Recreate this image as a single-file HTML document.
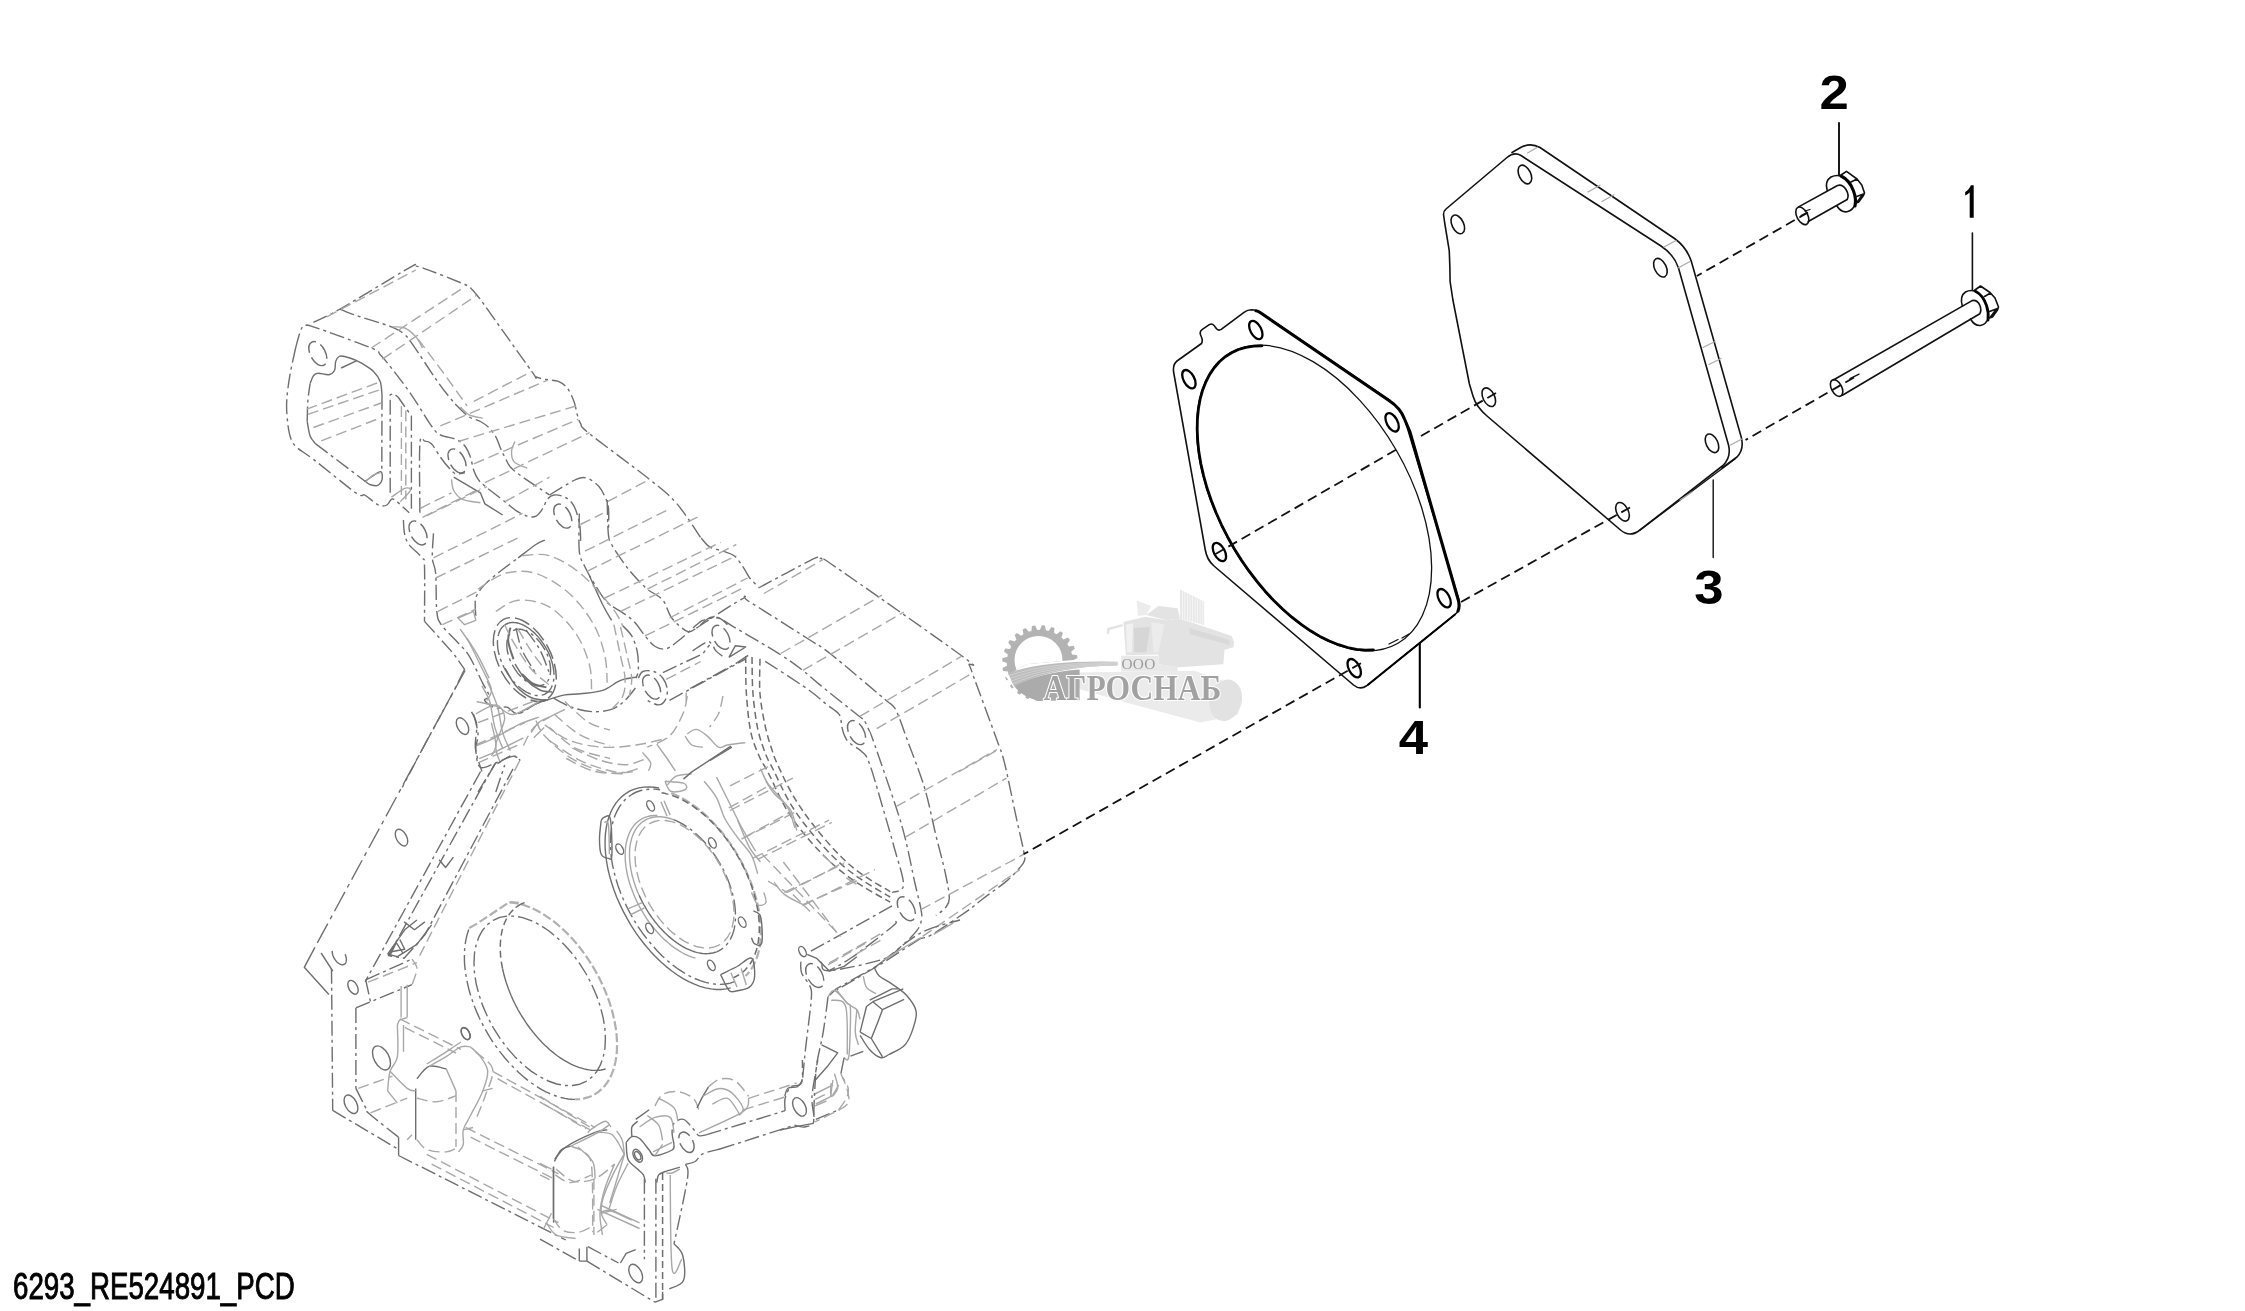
<!DOCTYPE html>
<html><head><meta charset="utf-8"><title>6293_RE524891_PCD</title>
<style>
html,body{margin:0;padding:0;background:#fff;}
body{width:2245px;height:1311px;overflow:hidden;font-family:"Liberation Sans",sans-serif;}
svg{display:block;position:absolute;left:0;top:0;will-change:transform;}
svg *{fill:none;stroke-linecap:round;stroke-linejoin:round;}
.cmb polygon,.cmb ellipse{fill:#e3e3e3;stroke:none}
.k13{stroke:#111;stroke-width:1.3} .k14{stroke:#111;stroke-width:1.4} .k15{stroke:#111;stroke-width:1.6} .k16{stroke:#111;stroke-width:1.6}
.k20{stroke:#000;stroke-width:2.1} .k18{stroke:#000;stroke-width:1.8} .k22{stroke:#000;stroke-width:2.3} .k28{stroke:#000;stroke-width:2.8} .k30{stroke:#000;stroke-width:3.1}
.g12{stroke:#aaa;stroke-width:1.2}
.dk{stroke:#111;stroke-width:1.8;stroke-dasharray:10 5.3;stroke-linecap:butt}
text{font-family:"Liberation Sans",sans-serif;stroke:none;}
.lb{fill:#000;font-weight:bold} .l1{fill:#000} .cap{fill:#000;stroke:#000;stroke-width:0.95px;stroke-linejoin:miter}
.hd{stroke:#6e6e6e;stroke-width:1.4;stroke-dasharray:15 4 3 4;stroke-linecap:butt}
.hs{stroke:#6e6e6e;stroke-width:1.4;stroke-linecap:butt}
.hl{stroke:#a8a8a8;stroke-width:1.4;stroke-dasharray:11 5;stroke-linecap:butt}
.hg{stroke:#a8a8a8;stroke-width:1.4;stroke-linecap:butt}
.hs2{stroke:#6e6e6e;stroke-width:2.0;stroke-linecap:butt}
.hg2{stroke:#b0b0b0;stroke-width:2.2;stroke-dasharray:9 3;stroke-linecap:butt}
.hd2{stroke:#6e6e6e;stroke-width:1.45;stroke-dasharray:16 5;stroke-linecap:butt}
.hd3{stroke:#6e6e6e;stroke-width:1.5;stroke-dasharray:7 4;stroke-linecap:butt}
.hd4{stroke:#6e6e6e;stroke-width:1.35;stroke-dasharray:22 5 4 5;stroke-linecap:butt}
</style></head><body>
<svg width="2245" height="1311" viewBox="0 0 2245 1311">
<g id="watermark">
<g class="cmb">
<polygon points="1123.5,622.1 1145.1,616.7 1166.8,620.3 1180.0,618.5 1231.7,635.9 1234.1,642.5 1233.5,647.3 1224.5,649.8 1223.3,664.2 1178.8,667.2 1158.4,664.2 1158.4,654.6 1125.9,655.2"/>
<polygon points="1146.3,614.9 1158.4,605.9 1177.6,608.3 1180.0,618.5 1166.8,620.3"/>
<polygon points="1180.0,589.6 1204.1,601.6 1204.1,625.1 1180.0,618.5" style="fill:#e8e8e8"/>
<polygon points="1136.7,600.4 1151.2,605.9 1146.3,614.9 1137.9,616.1" style="fill:#ececec"/>
<polygon points="1106.7,633.5 1107.3,628.1 1122.3,623.9 1122.9,626.3 1109.7,629.9 1109.1,634.1"/>
<polygon points="1074.2,672.6 1194.4,670.8 1237.7,685.8 1241.4,700.3 1237.7,714.7 1200.5,722.5 1122.3,701.5 1076.6,688.2" style="fill:#ebebeb"/>
<ellipse cx="1225.7" cy="700.3" rx="16" ry="21" transform="rotate(15 1225.7 700.3)" style="fill:#e2e2e2"/>
<polygon points="1121.1,655.8 1158.4,655.8 1158.4,664.2 1177.6,666.6 1177.6,671.4 1121.1,671.4" style="fill:#e9e9e9"/>
</g>
<polygon points="1133.7,628.1 1150.0,626.9 1146.3,652.2 1134.3,652.2" style="fill:#d6d6d6;stroke:none"/>
<polygon points="1151.2,622.1 1164.4,624.5 1158.4,652.2 1153.6,652.2" style="fill:#ececec;stroke:none"/>
<polygon points="1125.9,624.5 1133.1,623.3 1131.9,652.2 1127.1,652.2" style="fill:#f1f1f1;stroke:none"/>
<polygon points="1189.6,628.1 1229.3,640.1 1229.3,644.9 1189.6,634.1" style="fill:#d9d9d9;stroke:none"/>
<path d="M1182.4,591.4 L1182.4,619.7" style="stroke:#f6f6f6;stroke-width:0.9;fill:none"/>
<path d="M1184.9,592.6 L1184.9,620.3" style="stroke:#f6f6f6;stroke-width:0.9;fill:none"/>
<path d="M1187.5,593.8 L1187.5,620.9" style="stroke:#f6f6f6;stroke-width:0.9;fill:none"/>
<path d="M1190.0,595.0 L1190.0,621.5" style="stroke:#f6f6f6;stroke-width:0.9;fill:none"/>
<path d="M1192.5,596.2 L1192.5,622.1" style="stroke:#f6f6f6;stroke-width:0.9;fill:none"/>
<path d="M1195.1,597.4 L1195.1,622.7" style="stroke:#f6f6f6;stroke-width:0.9;fill:none"/>
<path d="M1197.6,598.6 L1197.6,623.3" style="stroke:#f6f6f6;stroke-width:0.9;fill:none"/>
<path d="M1200.1,599.8 L1200.1,623.9" style="stroke:#f6f6f6;stroke-width:0.9;fill:none"/>
<path d="M1202.6,601.0 L1202.6,624.5" style="stroke:#f6f6f6;stroke-width:0.9;fill:none"/>
<defs><clipPath id="gclip"><polygon points="990.0,604.1 1057.3,604.1 1076.6,647.3 1079.0,659.4 1026.1,664.2 1005.6,676.2 1014.1,688.2 1081.4,671.4 1081.4,712.3 990.0,712.3"/></clipPath></defs>
<g clip-path="url(#gclip)"><path d="M1073.2,663.0 L1077.8,664.8 L1077.5,667.9 L1072.7,668.9 L1072.1,671.6 L1076.0,674.5 L1074.9,677.5 L1070.0,677.1 L1068.8,679.6 L1071.8,683.4 L1070.0,686.0 L1065.4,684.4 L1063.5,686.5 L1065.4,691.0 L1063.0,693.0 L1058.9,690.3 L1056.6,691.8 L1057.3,696.6 L1054.5,697.9 L1051.2,694.2 L1048.6,695.1 L1048.1,699.9 L1044.9,700.5 L1042.8,696.1 L1040.0,696.2 L1038.2,700.8 L1035.1,700.5 L1034.1,695.7 L1031.4,695.1 L1028.5,699.0 L1025.5,697.9 L1025.9,693.0 L1023.4,691.8 L1019.6,694.8 L1017.0,693.0 L1018.6,688.4 L1016.5,686.5 L1012.0,688.4 L1010.0,686.0 L1012.7,681.9 L1011.2,679.6 L1006.4,680.3 L1005.1,677.5 L1008.8,674.2 L1007.9,671.6 L1003.1,671.1 L1002.5,667.9 L1006.9,665.8 L1006.8,663.0 L1002.2,661.2 L1002.5,658.1 L1007.3,657.1 L1007.9,654.4 L1004.0,651.5 L1005.1,648.5 L1010.0,648.9 L1011.2,646.4 L1008.2,642.6 L1010.0,640.0 L1014.6,641.6 L1016.5,639.5 L1014.6,635.0 L1017.0,633.0 L1021.1,635.7 L1023.4,634.2 L1022.7,629.4 L1025.5,628.1 L1028.8,631.8 L1031.4,630.9 L1031.9,626.1 L1035.1,625.5 L1037.2,629.9 L1040.0,629.8 L1041.8,625.2 L1044.9,625.5 L1045.9,630.3 L1048.6,630.9 L1051.5,627.0 L1054.5,628.1 L1054.1,633.0 L1056.6,634.2 L1060.4,631.2 L1063.0,633.0 L1061.4,637.6 L1063.5,639.5 L1068.0,637.6 L1070.0,640.0 L1067.3,644.1 L1068.8,646.4 L1073.6,645.7 L1074.9,648.5 L1071.2,651.8 L1072.1,654.4 L1076.9,654.9 L1077.5,658.1 L1073.1,660.2 Z" style="fill:#b3b3b3;stroke:none"/>
<circle cx="1038.5" cy="660.0" r="24.0" style="fill:#fff;stroke:none"/></g>
<path d="M1014.1,685.8 Q1040.5,672.6 1079.6,669.6 L1079.6,700.3 L1038.1,700.9 Q1020.1,695.5 1014.1,685.8 Z" style="fill:#ababab;stroke:none"/>
<path d="M1008.0,673.2 Q1044.1,660.0 1117.5,661.8 L1117.5,665.6 Q1052.5,666.6 1014.1,686.4 Z" style="fill:#bcbcbc;stroke:none"/>
<path d="M1009.2,675.6 Q1046.5,662.4 1117.5,662.5" style="stroke:#dadada;stroke-width:0.7;fill:none"/>
<path d="M1010.4,678.4 Q1048.0,663.8 1117.5,663.2" style="stroke:#dadada;stroke-width:0.7;fill:none"/>
<path d="M1011.6,681.0 Q1049.4,665.1 1117.5,663.9" style="stroke:#dadada;stroke-width:0.7;fill:none"/>
<path d="M1012.9,683.7 Q1050.9,666.3 1117.5,664.8" style="stroke:#dadada;stroke-width:0.7;fill:none"/>
<text x="1138.5" y="669.2" text-anchor="middle" style="font-family:'Liberation Serif',serif;font-size:15.3px;fill:#9a9a9a;stroke:none;letter-spacing:0.3px">ООО</text>
<text x="1043.5" y="700.2" textLength="178" lengthAdjust="spacingAndGlyphs" style="font-family:'Liberation Serif',serif;font-size:35px;font-weight:bold;fill:#a2a2a2;stroke:#fff;stroke-width:2.2px;paint-order:stroke fill">АГРОСНАБ</text>
</g>
<g id="housing">
<path class="hd" d="M313.4,322.4 C317.9,320.2 324.2,318.1 340.1,309.0 C356.1,299.9 396.9,274.9 409.2,267.8 C421.4,260.8 411.4,266.7 413.6,266.7 C415.9,266.7 414.0,264.8 422.5,267.8 C431.1,270.8 456.7,281.0 464.9,284.5 C473.0,288.0 469.3,286.9 471.5,289.0 C473.8,291.0 476.0,294.0 478.2,296.8 C480.4,299.6 476.0,293.2 484.9,305.7 C493.8,318.1 523.1,359.5 531.7,371.4 C540.2,383.3 533.5,375.6 536.1,376.9 C538.7,378.3 543.5,378.9 547.3,379.6 C551.0,380.4 555.1,380.0 558.4,381.4 C561.7,382.8 564.7,384.7 567.3,388.1 C569.9,391.4 572.3,397.0 574.0,401.4 C575.7,405.9 576.2,411.1 577.3,414.8 C578.4,418.5 578.8,420.7 580.7,423.7 C582.6,426.8 577.4,423.9 588.7,433.1 C600.0,442.2 633.7,466.8 648.4,478.5 C663.0,490.2 667.6,493.3 676.4,503.2 C685.2,513.2 697.0,532.4 701.2,538.2"/>
<path class="hd" d="M295.6,348.0 C296.5,344.8 299.5,332.7 301.2,329.1 C302.8,325.4 303.6,326.5 305.6,326.2 C307.7,325.8 302.5,323.2 313.4,326.8 C324.4,330.5 360.2,343.4 371.3,348.0 C382.4,352.6 376.9,351.3 380.2,354.7 C383.6,358.0 386.2,361.4 391.4,368.0 C396.6,374.7 404.7,385.1 411.4,394.8 C418.1,404.4 426.6,419.3 431.4,425.9 C436.3,432.6 436.3,432.6 440.4,434.9 C444.4,437.1 451.9,437.5 455.9,439.3 C460.0,441.2 462.4,443.0 464.9,446.0 C467.3,449.0 468.9,453.0 470.4,457.1 C471.9,461.2 472.5,466.8 473.8,470.5 C475.1,474.2 476.4,476.8 478.2,479.4 C480.1,482.0 480.4,482.4 484.9,486.1 C489.4,489.8 499.7,497.6 504.9,501.7 C510.1,505.8 512.4,508.2 516.1,510.6 C519.8,513.0 523.9,515.2 527.2,516.1 C530.6,517.1 533.5,517.4 536.1,516.1 C538.7,514.8 541.0,511.1 542.8,508.4 C544.7,505.6 545.4,501.7 547.3,499.4 C549.1,497.2 551.0,495.4 553.9,495.0 C556.9,494.6 561.7,495.4 565.1,497.2 C568.4,499.1 571.6,501.7 574.0,506.1 C576.4,510.6 578.4,518.0 579.6,523.9 C580.7,529.9 580.5,539.0 580.7,542.0"/>
<path class="hd" d="M295.6,348.0 C294.7,352.4 291.5,365.8 290.0,374.7 C288.5,383.6 287.1,393.3 286.7,401.4 C286.3,409.6 287.1,417.4 287.8,423.7 C288.5,430.0 289.5,435.2 291.1,439.3 C292.8,443.4 294.1,444.9 297.8,448.2 C301.5,451.6 303.8,451.9 313.4,459.4 C323.1,466.8 347.2,486.8 355.7,492.8 C364.3,498.7 361.7,493.5 364.6,495.0 C367.6,496.5 370.9,499.9 373.5,501.7 C376.1,503.5 378.0,505.1 380.2,505.7 C382.4,506.2 385.0,506.1 386.9,505.0 C388.8,504.0 389.9,500.2 391.4,499.4 C392.8,498.7 392.8,498.3 395.8,500.6 C398.8,502.8 406.9,510.8 409.2,512.8"/>
<path class="hd" d="M340.1,309.0 C342.4,309.9 345.0,311.6 353.5,314.6 C362.0,317.6 382.8,323.5 391.4,326.8 C399.9,330.2 401.0,331.5 404.7,334.6 C408.4,337.8 408.4,338.3 413.6,345.8 C418.8,353.2 430.0,370.6 435.9,379.2 C441.8,387.7 445.6,392.4 449.3,397.0 C453.0,401.6 454.8,403.7 458.2,407.0 C461.5,410.4 465.6,414.6 469.3,417.0 C473.0,419.5 477.1,419.6 480.4,421.5 C483.8,423.3 486.8,425.6 489.4,428.2 C492.0,430.8 494.2,433.7 496.0,437.1 C497.9,440.4 499.0,444.9 500.5,448.2 C502.0,451.6 502.7,453.4 504.9,457.1 C507.2,460.8 506.4,464.2 513.9,470.5 C521.3,476.8 543.5,490.9 549.5,495.0"/>
<path class="hd" d="M549.5,495.0 C553.9,492.4 569.9,482.2 576.2,479.4 C582.5,476.6 583.6,477.2 587.3,478.3 C591.1,479.4 595.5,482.9 598.5,486.1 C601.5,489.2 603.5,493.5 605.2,497.2 C606.8,500.9 608.0,503.2 608.5,508.4 C609.1,513.5 608.5,525.1 608.5,528.4"/>
<path class="hd" d="M390.2,492.8 L390.2,394.8 L393.6,393.7 L398.0,397.0 L411.4,415.9 L411.4,512.8"/>
<path class="hd" d="M419.9,512.8 C419.9,501.3 419.0,455.7 419.9,443.8 C420.7,431.8 422.8,441.1 424.8,441.1 C426.7,441.1 428.8,441.1 431.4,443.8 C434.0,446.4 437.4,453.0 440.4,457.1 C443.3,461.2 446.7,465.5 449.3,468.3 C451.9,471.0 453.3,473.1 455.9,473.8 C458.5,474.6 463.4,472.9 464.9,472.7"/>
<path class="hs" d="M453.7,477.2 L480.4,492.8 L484.9,503.9 L502.7,515.0"/>
<path class="hs" d="M310.1,383.6 C310.6,382.3 312.1,377.6 313.4,375.8 C314.7,374.1 315.3,373.3 317.9,373.2 C320.5,373.0 326.2,375.2 329.0,374.7 C331.8,374.2 333.5,372.5 334.6,370.3 C335.7,368.0 334.9,363.7 335.7,361.4 C336.4,359.1 337.5,357.3 339.0,356.5 C340.5,355.6 341.6,355.8 344.6,356.5 C347.6,357.2 353.9,359.5 356.8,360.7 C359.8,361.9 359.6,361.8 362.4,363.6 C365.2,365.4 370.6,368.4 373.5,371.4 C376.5,374.4 378.8,377.5 380.2,381.4 C381.6,385.3 381.7,392.5 382.0,394.8"/>
<path class="hd" d="M382.0,394.8 L381.8,472.7"/>
<path class="hs" d="M364.6,481.6 C366.9,480.1 375.1,474.2 378.0,472.7 C380.9,471.2 381.2,471.4 381.8,472.7 C382.4,474.0 382.6,478.4 381.8,480.5 C381.0,482.7 379.0,485.0 376.9,485.6 C374.8,486.3 370.4,484.5 369.1,484.3"/>
<path class="hd" d="M369.1,484.3 L315.6,443.8"/>
<path class="hs" d="M315.6,443.8 C314.7,442.5 311.5,439.7 310.1,436.0 C308.7,432.3 307.7,423.9 307.2,421.5"/>
<path class="hd" d="M307.2,421.5 C307.3,418.2 307.4,407.8 307.8,401.4 C308.3,395.1 309.7,386.6 310.1,383.6"/>
<path class="hs" d="M356.8,360.7 L341.2,368.0"/>
<ellipse class="hd2" cx="317.9" cy="353.6" rx="13" ry="7.50" transform="rotate(62 317.9 353.6)"/>
<ellipse class="hd2" cx="457.1" cy="460.9" rx="13" ry="7.50" transform="rotate(62 457.1 460.9)"/>
<ellipse class="hd2" cx="562.9" cy="516.1" rx="13" ry="7.50" transform="rotate(62 562.9 516.1)"/>
<ellipse class="hd2" cx="418.1" cy="532.9" rx="13" ry="7.50" transform="rotate(62 418.1 532.9)"/>
<path class="hl" d="M326.8,316.8 L415.9,270.0"/>
<path class="hl" d="M371.3,348.0 L464.9,286.7"/>
<path class="hl" d="M382.4,359.1 L476.0,295.7"/>
<path class="hl" d="M306.7,409.2 L381.3,381.4"/>
<path class="hl" d="M307.8,414.4 L381.3,389.2"/>
<path class="hl" d="M313.4,427.5 L381.3,403.0"/>
<path class="hl" d="M321.2,440.9 L381.3,417.5"/>
<path class="hl" d="M473.8,401.4 L531.7,371.4"/>
<path class="hl" d="M440.4,425.9 L547.3,380.3"/>
<path class="hl" d="M458.2,441.5 L576.2,405.9"/>
<path class="hl" d="M473.8,463.8 L578.4,419.3"/>
<path class="hl" d="M484.9,482.7 L589.6,432.6"/>
<path class="hl" d="M420.3,508.4 L451.5,492.8"/>
<path class="hl" d="M607.4,501.7 L647.5,480.5"/>
<path class="hl" d="M418.1,339.1 L444.8,374.7 L467.1,405.9"/>
<path class="hl" d="M422.5,517.3 L480.4,488.3"/>
<path class="hl" d="M504.9,501.7 L549.5,477.2"/>
<path class="hl" d="M401.4,405.9 L401.4,495.0"/>
<path class="hl" d="M405.8,410.4 L405.8,499.4"/>
<path class="hg" d="M392.5,326.8 C394.5,327.0 400.8,326.3 404.7,328.0 C408.6,329.6 412.9,333.5 415.9,336.9 C418.8,340.2 421.4,346.1 422.5,348.0"/>
<path class="hg" d="M460.4,407.0 C461.9,408.3 465.6,413.0 469.3,414.8 C473.0,416.7 480.4,417.6 482.7,418.2"/>
<path class="hg" d="M515.0,441.5 C514.4,443.0 511.8,447.1 511.6,450.4 C511.4,453.8 511.3,458.6 513.9,461.6 C516.5,464.6 525.0,467.1 527.2,468.3"/>
<path class="hg" d="M451.5,479.4 C451.9,481.3 451.9,487.2 453.7,490.5 C455.6,493.9 458.2,497.4 462.6,499.4 C467.1,501.5 477.5,502.2 480.4,502.8"/>
<path class="hg" d="M365.7,481.6 C367.0,480.5 371.1,476.4 373.5,474.9 C376.0,473.5 379.1,473.1 380.2,472.7"/>
<path class="hg" d="M391.4,497.2 C393.6,495.7 401.6,489.4 404.7,488.3 C407.9,487.2 411.0,488.3 410.3,490.5 C409.5,492.8 401.9,499.8 400.3,501.7"/>
<path class="hd" d="M403.4,520.0 C403.6,522.3 403.6,529.3 404.5,533.4 C405.4,537.5 406.0,540.5 409.0,544.5 C411.9,548.6 419.7,554.2 422.3,557.9 C424.9,561.6 424.2,556.2 424.5,566.8 C424.9,577.4 424.5,612.3 424.5,621.4"/>
<path class="hd" d="M424.5,621.4 L435.7,633.6 L453.5,653.7 L464.6,669.3"/>
<path class="hd" d="M464.6,669.3 L453.5,691.5 L424.5,745.0 L402.3,787.3"/>
<path class="hd" d="M433.5,533.4 C433.3,537.5 432.0,551.2 432.3,557.9 C432.7,564.6 434.9,564.6 435.7,573.5 C436.4,582.4 435.9,602.8 436.8,611.4 C437.7,619.9 438.1,619.9 441.2,624.7 C444.4,629.5 451.1,635.1 455.7,640.3 C460.4,645.5 464.6,648.8 469.1,655.9 C473.5,663.0 479.1,675.9 482.4,682.6 C485.8,689.3 488.8,693.0 489.1,696.0 C489.5,699.0 483.6,698.4 484.7,700.4 C485.8,702.5 492.1,707.1 495.8,708.2 C499.5,709.4 503.2,706.2 506.9,707.1 C510.7,708.1 513.3,714.4 518.1,713.8 C522.9,713.3 530.7,706.2 535.9,703.8 C541.1,701.4 547.0,700.1 549.3,699.3"/>
<path class="hs" d="M518.1,713.8 C521.1,712.1 530.7,706.2 535.9,703.8 C541.1,701.4 544.4,700.8 549.3,699.3 C554.1,697.8 559.7,695.8 564.9,694.9 C570.1,693.9 574.1,694.5 580.4,693.8 C586.8,693.0 596.0,692.7 602.7,690.4 C609.4,688.2 615.0,682.6 620.5,680.4 C626.1,678.2 633.5,677.6 636.1,677.1"/>
<ellipse class="hd2" cx="524.8" cy="659.5" rx="45.4" ry="26.20" transform="rotate(62 524.8 659.5)"/>
<path class="hd" d="M475.8,615.8 C475.8,612.8 474.3,603.2 475.8,598.0 C477.3,592.8 480.6,589.1 484.7,584.6 C488.8,580.2 494.7,575.7 500.3,571.3 C505.8,566.8 515.1,560.1 518.1,557.9"/>
<path class="hs" d="M518.1,557.9 C521.1,555.7 531.4,547.5 535.9,544.5 C540.4,541.6 543.3,540.8 544.8,540.1"/>
<path class="hd" d="M622.8,625.8 C624.2,627.5 629.3,631.6 631.7,635.9 C634.1,640.1 636.1,645.9 637.2,651.4 C638.4,657.0 638.5,664.8 638.4,669.3 C638.2,673.7 636.5,676.7 636.1,678.2"/>
<path class="hd" d="M553.7,698.2 C556.7,699.7 565.2,704.9 571.5,707.1 C577.8,709.4 584.9,711.2 591.6,711.6 C598.3,712.0 606.1,711.2 611.6,709.4 C617.2,707.5 620.9,704.2 625.0,700.4 C629.1,696.7 634.3,689.3 636.1,687.1"/>
<path class="hd" d="M579.3,513.4 C579.3,519.7 578.4,542.3 579.3,551.2 C580.3,560.1 582.3,561.2 584.9,566.8 C587.5,572.4 591.2,578.7 594.9,584.6 C598.6,590.6 602.9,598.0 607.2,602.4 C611.4,606.9 616.1,608.2 620.5,611.4 C625.0,614.5 629.8,617.3 633.9,621.4 C638.0,625.5 641.5,631.7 645.0,635.9 C648.6,640.1 651.5,644.4 655.1,646.5 C658.6,648.7 662.3,649.7 666.2,648.8 C670.1,647.8 674.2,644.0 678.4,640.8 C682.7,637.5 687.7,632.6 691.8,629.2 C695.9,625.8 698.5,622.1 702.9,620.3 C707.4,618.4 714.4,617.3 718.5,618.0 C722.6,618.8 726.0,623.6 727.4,624.7"/>
<path class="hs" d="M589.4,575.7 C591.6,580.5 599.0,597.3 602.7,604.7 C606.4,612.1 610.1,617.7 611.6,620.3"/>
<path class="hd" d="M701.2,538.1 C702.6,539.5 706.0,544.6 709.6,546.8 C713.3,549.0 718.9,549.7 723.0,551.2 C727.1,552.7 730.8,553.1 734.1,555.7 C737.5,558.3 740.4,563.1 743.0,566.8 C745.6,570.5 747.1,574.6 749.7,578.0 C752.3,581.3 757.1,585.4 758.6,586.9"/>
<path class="hd" d="M607.2,500.0 C607.4,505.6 607.5,526.0 608.3,533.4 C609.0,540.8 608.8,539.3 611.6,544.5 C614.4,549.7 620.9,559.0 625.0,564.6 C629.1,570.2 632.4,573.9 636.1,578.0 C639.8,582.0 642.8,585.4 647.3,589.1 C651.7,592.8 658.8,595.4 662.9,600.2 C666.9,605.0 667.7,612.8 671.8,618.0 C675.8,623.2 683.3,629.7 687.3,631.4 C691.4,633.1 694.8,628.6 696.3,628.1"/>
<ellipse class="hd2" cx="651.7" cy="687.1" rx="13" ry="7.50" transform="rotate(62 651.7 687.1)"/>
<path class="hd" d="M638.4,678.2 C639.1,677.1 640.2,672.6 642.8,671.5 C645.4,670.4 650.6,670.4 653.9,671.5 C657.3,672.6 660.6,675.2 662.9,678.2 C665.1,681.1 666.9,685.6 667.3,689.3 C667.7,693.0 666.6,697.8 665.1,700.4 C663.6,703.0 661.4,704.9 658.4,704.9 C655.4,704.9 649.1,701.2 647.3,700.4"/>
<path class="hd" d="M662.9,672.6 L702.9,653.7 L709.6,644.8"/>
<path class="hd" d="M669.5,700.4 L745.3,659.2"/>
<path class="hl" d="M666.2,679.3 L700.7,661.5"/>
<path class="hg" d="M686.2,692.4 L686.2,701.6"/>
<path class="hl" d="M478.0,589.1 C482.4,586.5 495.1,576.1 504.7,573.5 C514.4,570.9 525.1,570.2 535.9,573.5 C546.7,576.8 559.7,585.0 569.3,593.5 C579.0,602.1 587.9,614.3 593.8,624.7 C599.7,635.1 602.7,646.3 604.9,655.9 C607.2,665.6 606.8,678.2 607.2,682.6"/>
<path class="hl" d="M495.8,611.4 C499.5,609.5 509.2,601.0 518.1,600.2 C527.0,599.5 539.6,601.3 549.3,606.9 C558.9,612.5 569.3,624.0 576.0,633.6 C582.7,643.3 586.8,655.5 589.4,664.8 C592.0,674.1 591.2,685.2 591.6,689.3"/>
<path class="hl" d="M522.5,555.7 C527.0,555.7 539.6,552.7 549.3,555.7 C558.9,558.6 570.1,565.0 580.4,573.5 C590.8,582.0 604.6,598.2 611.6,606.9 C618.7,615.6 620.9,622.7 622.8,625.8"/>
<path class="hl" d="M613.9,624.7 C615.0,629.9 618.7,647.0 620.5,655.9 C622.4,664.8 624.6,671.5 625.0,678.2 C625.4,684.9 625.0,690.8 622.8,696.0 C620.5,701.2 613.5,707.1 611.6,709.4"/>
<path class="hl" d="M620.5,626.9 C621.6,631.8 625.4,647.4 627.2,655.9 C629.1,664.4 631.3,671.5 631.7,678.2 C632.0,684.9 629.8,693.0 629.4,696.0"/>
<path class="hl" d="M433.5,557.9 L522.5,513.4"/>
<path class="hl" d="M435.7,578.0 L518.1,537.9"/>
<path class="hl" d="M437.9,611.4 L478.0,591.3"/>
<path class="hl" d="M442.4,624.7 L475.8,609.1"/>
<path class="hl" d="M426.8,515.6 L486.9,486.6"/>
<path class="hl" d="M580.4,524.5 L602.7,513.4"/>
<path class="hl" d="M584.9,551.2 L669.5,508.9"/>
<path class="hl" d="M587.1,571.3 L700.7,515.6"/>
<path class="hl" d="M604.9,598.0 L720.8,542.3"/>
<path class="hl" d="M620.5,611.4 L736.3,555.7"/>
<path class="hl" d="M645.0,635.9 L745.3,586.9"/>
<path class="hl" d="M647.3,589.1 L736.3,544.5"/>
<path class="hl" d="M669.5,618.0 L747.5,578.0"/>
<path class="hs" d="M498.4,634.8 L498.8,633.4 L499.3,632.1 L499.8,630.9 L500.4,629.7 L501.1,628.7 L501.8,627.7 L502.7,626.8 L503.5,625.9 L504.4,625.2 L505.4,624.5 L506.4,624.0 L507.5,623.5 L508.6,623.1 L509.8,622.8 L511.0,622.6 L512.3,622.5 L513.6,622.5 L514.9,622.6 L516.2,622.8 L517.6,623.0 L519.0,623.4 L520.4,623.9 L521.8,624.4 L523.2,625.0 L524.7,625.8 L526.1,626.6 L527.5,627.5 L529.0,628.5 L530.4,629.5 L531.8,630.7 L533.2,631.9 L534.6,633.1 L535.9,634.5 L537.3,635.9 L538.6,637.4 L539.8,638.9 L541.1,640.5 L542.2,642.1 L543.4,643.8 L544.5,645.5 L545.5,647.2 L546.5,649.0 L547.5,650.8 L548.4,652.6 L549.2,654.4 L550.0,656.3 L550.7,658.1 L551.3,660.0"/>
<path class="hd" d="M551.3,660.0 L552.2,662.9 L552.9,665.8 L553.4,668.7 L553.8,671.4 L554.0,674.1 L553.9,676.7 L553.8,679.2 L553.4,681.6 L552.8,683.8 L552.1,685.9 L551.2,687.8 L550.2,689.5 L549.0,691.0 L547.6,692.3 L546.1,693.4 L544.5,694.3 L542.8,694.9 L540.9,695.3 L538.9,695.5 L536.9,695.5 L534.8,695.2 L532.6,694.7 L530.4,693.9 L528.2,693.0 L525.9,691.8 L523.7,690.4 L521.4,688.8 L519.2,687.0 L517.0,685.0 L514.9,682.9 L512.8,680.6 L510.9,678.2 L509.0,675.7 L507.2,673.0 L505.6,670.3 L504.0,667.5 L502.7,664.6 L501.4,661.7 L500.3,658.8 L499.4,655.9 L498.7,653.0 L498.1,650.1 L497.7,647.3 L497.5,644.6 L497.4,642.0 L497.6,639.4 L497.9,637.0 L498.4,634.8"/>
<path class="hd" d="M544.2,684.3 L542.0,685.3 L539.7,685.7 L537.1,685.7 L534.4,685.2 L531.6,684.2 L528.7,682.8 L525.8,680.9 L523.0,678.7 L520.3,676.0 L517.7,673.1 L515.4,669.9 L513.2,666.4 L511.3,662.9 L509.7,659.2 L508.5,655.5 L507.5,651.8 L507.0,648.3 L506.8,644.8 L507.0,641.6 L507.5,638.7 L508.5,636.1 L509.7,633.9 L511.3,632.1 L513.2,630.7 L515.4,629.7 L517.7,629.3 L520.3,629.3 L523.0,629.8 L525.8,630.8 L528.7,632.2 L531.6,634.1 L534.4,636.3 L537.1,639.0 L539.7,641.9 L542.0,645.1 L544.2,648.6 L546.1,652.1 L547.7,655.8 L548.9,659.5 L549.9,663.2 L550.4,666.7 L550.6,670.2 L550.4,673.4 L549.9,676.3 L548.9,678.9 L547.7,681.1 L546.1,682.9 L544.2,684.3"/>
<path class="hs2" d="M510.4,627.6 C510.0,629.8 507.7,635.7 508.2,641.0 C508.7,646.3 512.6,656.2 513.5,659.3"/>
<path class="hs2" d="M522.0,674.0 C523.8,675.6 528.9,681.5 533.0,683.7 C537.1,685.9 544.2,686.8 546.4,687.4"/>
<path class="hs" d="M515.0,664.0 C516.8,666.7 521.8,675.7 526.0,680.0 C530.2,684.3 535.7,688.0 540.0,690.0 C544.3,692.0 550.0,691.7 552.0,692.0"/>
<path class="hs" d="M505.0,668.0 C506.8,671.0 511.5,681.0 516.0,686.0 C520.5,691.0 526.7,695.7 532.0,698.0 C537.3,700.3 545.3,699.7 548.0,700.0"/>
<path class="hd" d="M516.0,628.0 C517.0,631.7 518.8,642.7 522.0,650.0 C525.2,657.3 532.8,668.3 535.0,672.0"/>
<path class="hd" d="M526.0,630.0 C528.3,633.3 536.2,643.0 540.0,650.0 C543.8,657.0 547.5,668.3 549.0,672.0"/>
<path class="hl" d="M504.7,624.7 C506.2,627.7 509.2,635.1 513.6,642.5 C518.1,650.0 525.5,662.2 531.4,669.3 C537.4,676.3 546.3,682.3 549.3,684.9"/>
<path class="hl" d="M518.1,629.2 C520.3,632.9 527.0,644.8 531.4,651.4 C535.9,658.1 542.6,666.3 544.8,669.3"/>
<path class="hg" d="M458.0,618.0 L473.5,611.4 L475.8,620.3 L464.6,624.7 L458.0,618.0"/>
<path class="hg" d="M460.2,629.2 C461.7,631.4 465.4,635.9 469.1,642.5 C472.8,649.2 478.7,661.5 482.4,669.3 C486.2,677.1 490.6,684.1 491.4,689.3 C492.1,694.5 487.6,698.6 486.9,700.4"/>
<path class="hg" d="M466.9,638.1 C468.7,641.1 474.3,649.2 478.0,655.9 C481.7,662.6 487.3,674.5 489.1,678.2"/>
<path class="hg" d="M475.8,713.8 C479.1,712.3 491.0,704.2 495.8,704.9 C500.6,705.6 504.7,711.6 504.7,718.3 C504.7,724.9 496.6,737.6 495.8,745.0 C495.1,752.4 499.5,759.8 500.3,762.8"/>
<path class="hg" d="M491.4,722.7 C492.1,726.4 495.8,739.4 495.8,745.0 C495.8,750.6 492.1,754.3 491.4,756.1"/>
<path class="hl" d="M478.0,722.7 L535.9,700.4"/>
<path class="hl" d="M475.8,745.0 L524.8,722.7"/>
<path class="hl" d="M478.0,762.8 L518.1,745.0"/>
<path class="hd" d="M473.5,713.8 C474.3,717.1 477.6,727.9 478.0,733.9 C478.4,739.8 475.4,743.9 475.8,749.4 C476.1,755.0 476.9,765.0 480.2,767.3 C483.6,769.5 490.2,764.7 495.8,762.8 C501.4,761.0 509.5,756.5 513.6,756.1 C517.7,755.8 519.2,759.8 520.3,760.6"/>
<path class="hd" d="M495.8,792.0 L504.7,765.0"/>
<path class="hd" d="M478.0,792.0 L495.8,762.8"/>
<path class="hl" d="M544.8,724.9 C548.9,727.5 559.7,736.8 569.3,740.5 C579.0,744.2 591.6,746.5 602.7,747.2 C613.9,748.0 625.4,746.5 636.1,745.0 C646.9,743.5 662.1,739.4 667.3,738.3"/>
<path class="hl" d="M549.3,740.5 C554.5,743.9 569.7,755.4 580.4,760.6 C591.2,765.8 604.9,769.9 613.9,771.7 C622.8,773.6 630.6,771.7 633.9,771.7"/>
<path class="hl" d="M535.9,720.5 C537.4,723.1 538.9,729.8 544.8,736.1 C550.7,742.4 561.9,752.4 571.5,758.4 C581.2,764.3 593.8,769.1 602.7,771.7 C611.6,774.3 621.3,773.6 625.0,773.9"/>
<path class="hl" d="M687.3,696.0 C686.6,699.0 685.9,707.1 682.9,713.8 C679.9,720.5 675.5,730.5 669.5,736.1 C663.6,741.6 651.0,745.4 647.3,747.2"/>
<path class="hl" d="M723.0,696.0 C722.2,699.0 720.8,708.6 718.5,713.8 C716.3,719.0 711.1,724.9 709.6,727.2"/>
<path class="hg" d="M687.3,733.9 C688.8,733.1 692.9,729.0 696.3,729.4 C699.6,729.8 703.7,733.1 707.4,736.1 C711.1,739.0 715.2,745.7 718.5,747.2 C721.9,748.7 723.0,745.7 727.4,745.0 C731.9,744.2 742.3,743.1 745.3,742.8"/>
<path class="hg" d="M685.1,736.1 C686.2,737.6 688.8,743.1 691.8,745.0 C694.8,746.8 701.1,746.8 702.9,747.2"/>
<path class="hs" d="M709.6,760.6 L731.9,747.2"/>
<path class="hg" d="M667.3,785.1 C668.8,783.6 672.1,778.0 676.2,776.2 C680.3,774.3 689.2,774.3 691.8,773.9"/>
<path class="hd3" d="M745.7,656.0 C745.8,662.3 745.5,680.9 746.4,693.7 C747.3,706.5 748.6,721.9 750.9,732.6 C753.2,743.3 757.1,751.4 760.0,758.0 C762.9,764.6 763.6,763.6 768.1,772.4 C772.6,781.1 780.2,799.1 787.2,810.5 C794.2,821.9 801.8,831.5 810.1,841.0 C818.4,850.5 827.9,860.1 836.8,867.7 C845.7,875.3 854.6,881.1 863.5,886.8 C872.4,892.5 885.8,899.5 890.2,902.0"/>
<path class="hd3" d="M760.0,658.7 C760.0,664.5 759.1,682.5 760.0,693.7 C760.9,704.9 763.2,716.7 765.2,726.1 C767.2,735.5 769.9,743.5 772.0,750.0 C774.1,756.5 774.2,757.2 777.7,764.8 C781.2,772.3 786.9,785.1 792.9,795.3 C798.9,805.5 805.9,815.6 813.9,825.8 C821.9,836.0 832.3,848.0 840.6,856.3 C848.9,864.6 855.2,869.5 863.5,875.4 C871.8,881.3 885.8,888.9 890.2,891.6"/>
<path class="hd3" d="M752.0,657.0 C752.2,663.1 752.0,681.5 753.0,693.7 C754.0,705.9 755.8,719.8 758.0,730.0 C760.2,740.2 763.5,748.5 766.0,755.0 C768.5,761.5 769.0,761.0 773.0,769.0 C777.0,777.0 783.5,792.2 790.0,803.0 C796.5,813.8 803.9,823.7 812.0,833.5 C820.1,843.3 830.1,854.1 838.7,862.0 C847.3,869.9 854.9,875.2 863.5,881.0 C872.1,886.8 885.8,894.3 890.2,897.0"/>
<path class="hd" d="M758.5,588.0 C767.7,583.1 803.5,563.6 813.9,558.7 C824.3,553.8 817.4,557.4 821.0,558.7 C824.6,560.1 811.8,550.6 835.3,566.8 C858.8,583.0 939.7,639.6 962.0,656.0 C984.3,672.4 967.1,661.1 969.2,665.0 C971.3,668.9 969.9,666.7 974.5,679.2 C979.1,691.7 991.9,726.0 996.9,740.0 C1001.9,754.0 1001.3,750.2 1004.5,762.9 C1007.7,775.6 1012.8,801.7 1016.0,816.3 C1019.2,830.9 1022.2,843.3 1023.6,850.6 C1025.0,857.9 1025.2,857.2 1024.6,860.1 C1024.0,863.0 1022.8,864.2 1019.8,867.7 C1016.8,871.2 1012.5,876.0 1006.5,881.1 C1000.5,886.2 990.3,893.1 983.6,898.2 C976.9,903.3 975.0,905.6 966.4,911.6 C957.8,917.6 939.7,930.0 932.1,934.5 C924.5,939.0 922.6,937.7 920.7,938.3"/>
<path class="hd" d="M696.3,628.1 C703.9,623.3 733.1,603.5 741.9,599.1 C750.7,594.7 738.2,595.0 749.0,601.5 C759.8,608.0 793.2,629.3 806.7,638.0 C820.2,646.7 817.0,643.4 830.0,653.5 C843.0,663.6 874.1,690.3 884.4,698.9 C894.7,707.5 889.8,702.6 892.0,705.0 C894.2,707.4 894.9,707.4 897.4,713.2 C899.9,719.0 902.8,727.6 907.3,740.0 C911.8,752.4 919.7,771.8 924.5,787.7 C929.3,803.6 932.4,821.0 935.9,835.3 C939.4,849.6 943.2,863.0 945.4,873.5 C947.6,884.0 949.3,892.5 949.3,898.2 C949.3,903.9 947.6,904.9 945.4,907.8 C943.2,910.7 937.5,914.1 935.9,915.4"/>
<path class="hd" d="M700.4,625.0 C701.9,623.8 706.4,619.1 709.4,617.9 C712.4,616.7 714.6,616.5 718.5,617.9 C722.4,619.3 722.4,620.1 732.8,626.3 C743.2,632.4 769.0,647.4 780.7,654.8 C792.4,662.1 796.3,665.4 802.8,670.4 C809.3,675.4 810.3,677.0 819.6,684.6 C828.9,692.2 851.1,709.9 858.5,715.7 C865.9,721.5 862.0,717.2 863.7,719.6 C865.4,722.0 867.4,726.6 868.9,730.0 C870.4,733.4 868.5,727.2 873.0,740.0 C877.5,752.8 890.5,790.2 895.9,806.7 C901.3,823.2 902.2,826.4 905.4,839.1 C908.6,851.8 912.3,871.5 914.9,883.0 C917.5,894.5 919.6,901.8 920.7,907.8 C921.8,913.8 922.2,915.4 921.6,919.2 C921.0,923.0 920.1,926.2 916.8,930.7 C913.5,935.2 907.3,941.1 901.6,945.9 C895.9,950.7 894.6,955.2 882.5,959.3 C870.4,963.4 839.3,970.1 829.1,970.7 C818.9,971.3 823.4,965.0 821.5,963.1 C819.6,961.2 818.3,959.9 817.7,959.3"/>
<path class="hd" d="M765.2,661.3 C772.1,665.8 796.6,681.4 806.7,688.5 C816.9,695.6 820.7,699.8 826.1,704.1 C831.5,708.4 836.5,710.7 839.1,714.4 C841.7,718.1 840.8,722.6 841.7,726.1 C842.6,729.6 843.0,732.4 844.3,735.2 C845.6,738.0 846.5,740.3 849.4,743.0 C852.3,745.7 858.3,748.1 861.6,751.4 C864.9,754.7 865.7,753.7 869.2,762.9 C872.7,772.1 878.4,792.7 882.5,806.7 C886.6,820.7 890.5,833.8 894.0,846.8 C897.5,859.8 903.8,877.3 903.5,884.9 C903.2,892.5 894.0,891.2 892.1,892.5"/>
<ellipse class="hd2" cx="721.1" cy="637.3" rx="13" ry="7.50" transform="rotate(62 721.1 637.3)"/>
<ellipse class="hd2" cx="856.6" cy="732.6" rx="13" ry="7.50" transform="rotate(62 856.6 732.6)"/>
<ellipse class="hd2" cx="906.4" cy="908.7" rx="13" ry="7.50" transform="rotate(62 906.4 908.7)"/>
<ellipse class="hd2" cx="814.8" cy="975.5" rx="13" ry="7.50" transform="rotate(62 814.8 975.5)"/>
<ellipse class="hs" cx="802.5" cy="951.6" rx="5.5" ry="3.17" transform="rotate(62 802.5 951.6)"/>
<path class="hd" d="M892.1,905.9 L844.4,932.6 L810.1,951.6"/>
<path class="hd" d="M895.9,921.1 C895.2,922.1 899.4,920.8 892.1,926.8 C884.8,932.9 862.5,950.0 852.0,957.3 C841.5,964.7 833.0,968.5 829.1,970.7"/>
<path class="hd" d="M920.7,938.3 L882.5,963.1 L836.8,990.0"/>
<path class="hl" d="M895.9,806.7 L996.9,749.5"/>
<path class="hl" d="M905.4,837.2 L1006.5,778.1"/>
<path class="hl" d="M920.7,909.7 L1023.6,854.4"/>
<path class="hl" d="M922.6,936.4 L1019.8,869.6"/>
<path class="hl" d="M829.1,963.1 L882.5,932.6"/>
<path class="hl" d="M780.7,653.5 L881.9,595.2"/>
<path class="hl" d="M802.8,670.4 L903.9,612.0"/>
<path class="hl" d="M859.8,716.4 L962.0,656.0"/>
<path class="hl" d="M876.7,728.7 L972.6,673.0"/>
<path class="hs" d="M728.9,657.4 L735.4,645.7 L745.7,647.0 L728.9,657.4"/>
<path class="hd" d="M692.6,650.9 C695.0,649.4 703.6,642.9 706.9,641.9 C710.1,640.8 710.5,642.9 712.0,644.4 C713.6,646.0 714.2,649.0 715.9,650.9 C717.7,652.9 721.3,655.2 722.4,656.1"/>
<path class="hd" d="M690.0,688.5 L735.4,663.9 L750.9,653.5"/>
<path class="hl" d="M763.9,593.5 L822.8,559.6"/>
<path class="hl" d="M958.4,772.0 L999.5,748.8"/>
<path class="hl" d="M730.0,785.8 L768.1,766.7"/>
<path class="hl" d="M730.0,810.5 L792.9,778.1"/>
<path class="hl" d="M741.4,839.1 L794.8,812.4"/>
<path class="hl" d="M752.9,858.2 L829.1,820.1"/>
<path class="hl" d="M787.2,892.5 L844.4,862.0"/>
<path class="hl" d="M802.4,905.9 L874.9,869.6"/>
<path class="hl" d="M768.1,881.1 L787.2,892.5"/>
<path class="hl" d="M792.9,894.4 L810.1,911.6"/>
<path class="hl" d="M783.4,862.0 L836.8,932.6"/>
<path class="hl" d="M762.4,854.4 L840.6,936.4"/>
<path class="hg" d="M760.5,768.6 C761.8,771.1 763.7,777.5 768.1,783.9 C772.6,790.2 782.7,799.4 787.2,806.7 C791.6,814.0 793.6,824.2 794.8,827.7"/>
<path class="hg" d="M737.6,820.1 C739.5,824.5 745.3,839.8 749.1,846.8 C752.9,853.8 758.6,859.5 760.5,862.0"/>
<path class="hs" d="M730.7,987.9 L726.1,988.9 L721.2,989.5 L716.1,989.5 L710.9,988.9 L705.5,987.9 L700.0,986.3 L694.4,984.2 L688.8,981.6 L683.1,978.6 L677.4,975.0 L671.8,971.0 L666.2,966.6 L660.7,961.7 L655.3,956.5 L650.1,950.9 L645.1,945.0 L640.2,938.8 L635.6,932.3 L631.2,925.6 L627.2,918.7 L623.4,911.6 L619.9,904.4 L616.7,897.2 L613.9,889.8 L611.5,882.5 L609.4,875.2 L607.7,868.0 L606.5,860.9 L605.6,853.9 L605.1,847.1 L605.1,840.5 L605.4,834.1 L606.2,828.1 L607.3,822.4 L608.9,817.0 L610.9,811.9 L613.2,807.3 L615.9,803.1 L619.0,799.4 L622.4,796.1 L626.1,793.3 L630.1,790.9 L634.4,789.1 L638.9,787.9 L643.7,787.1 L648.7,786.9 L653.9,787.2 L659.2,788.0"/>
<path class="hd" d="M734.6,981.7 L730.3,983.1 L725.7,984.0 L720.9,984.4 L716.0,984.2 L710.9,983.6 L705.6,982.4 L700.2,980.7 L694.8,978.5 L689.3,975.9 L683.8,972.7 L678.3,969.2 L672.9,965.1 L667.5,960.7 L662.2,955.9 L657.1,950.7 L652.1,945.1 L647.3,939.3 L642.6,933.2 L638.2,926.8 L634.1,920.3 L630.2,913.5 L626.7,906.6 L623.4,899.6 L620.5,892.5 L617.9,885.4 L615.7,878.3 L613.9,871.3 L612.4,864.3 L611.3,857.5 L610.7,850.8 L610.4,844.3 L610.5,838.0 L611.0,832.0 L611.9,826.2 L613.2,820.8 L614.9,815.8 L617.0,811.1 L619.4,806.8 L622.2,802.9 L625.3,799.5 L628.8,796.5 L632.5,794.0 L636.5,792.0 L640.8,790.5 L645.3,789.6 L650.1,789.1 L655.0,789.1 L660.1,789.7"/>
<path class="hg2" d="M671.2,793.2 L675.0,794.7 L678.8,796.5 L682.6,798.5 L686.4,800.6 L690.2,803.1 L693.9,805.7 L697.7,808.5 L701.4,811.5 L705.1,814.7 L708.8,818.1 L712.3,821.7 L715.8,825.4 L719.3,829.3 L722.6,833.3 L725.9,837.5 L729.0,841.8 L732.0,846.2 L734.9,850.7 L737.7,855.3 L740.4,860.0 L742.9,864.7 L745.3,869.5 L747.5,874.4 L749.6,879.2 L751.5,884.1 L753.2,889.0 L754.8,894.0 L756.2,898.8 L757.4,903.7 L758.4,908.5 L759.3,913.3 L760.0,918.0 L760.4,922.6 L760.7,927.2 L760.8,931.6 L760.8,936.0 L760.5,940.2 L760.0,944.3 L759.4,948.2 L758.5,952.0 L757.5,955.7 L756.3,959.2 L754.9,962.4 L753.4,965.6 L751.6,968.5 L749.8,971.2 L747.7,973.7 L745.5,976.0"/>
<path class="hd3" d="M661.6,792.8 L665.6,793.6 L669.7,794.7 L673.8,796.1 L678.0,797.8 L682.2,799.8 L686.5,802.1 L690.7,804.7 L694.9,807.6 L699.1,810.7 L703.3,814.1 L707.4,817.7 L711.4,821.6 L715.3,825.7 L719.2,829.9 L722.9,834.4 L726.5,839.1 L730.0,843.9 L733.3,848.8 L736.4,853.9 L739.4,859.1 L742.3,864.4 L744.9,869.7 L747.3,875.1 L749.5,880.6 L751.6,886.1 L753.3,891.5 L754.9,897.0 L756.2,902.4 L757.3,907.7 L758.2,913.0 L758.8,918.2 L759.2,923.3 L759.3,928.3 L759.2,933.1 L758.8,937.7 L758.2,942.2 L757.4,946.5 L756.3,950.6 L754.9,954.5 L753.4,958.1 L751.6,961.5 L749.6,964.7 L747.3,967.5 L744.9,970.2 L742.3,972.5 L739.5,974.5 L736.5,976.2 L733.3,977.7"/>
<path class="hs" d="M716.6,951.8 L715.2,952.3 L713.7,952.7 L712.2,953.1 L710.7,953.3 L709.1,953.5 L707.5,953.6 L705.9,953.7 L704.2,953.6 L702.5,953.5 L700.8,953.2 L699.1,952.9 L697.4,952.6 L695.6,952.1 L693.8,951.5 L692.0,950.9 L690.2,950.2 L688.4,949.4 L686.6,948.6 L684.7,947.7 L682.9,946.6 L681.1,945.6 L679.2,944.4 L677.4,943.2 L675.6,941.9 L673.8,940.5 L672.0,939.1 L670.2,937.6 L668.4,936.1 L666.7,934.5 L664.9,932.8 L663.2,931.1 L661.5,929.3 L659.8,927.5 L658.2,925.6 L656.6,923.6 L655.0,921.7 L653.5,919.6 L651.9,917.6 L650.5,915.5 L649.0,913.3 L647.6,911.2 L646.3,909.0 L645.0,906.7 L643.7,904.5 L642.5,902.2 L641.3,899.9 L640.2,897.6 L639.1,895.2"/>
<path class="hg" d="M639.1,895.2 L637.8,892.4 L636.7,889.5 L635.6,886.7 L634.6,883.8 L633.7,881.0 L632.9,878.1 L632.1,875.3 L631.5,872.4 L630.9,869.6 L630.5,866.9 L630.1,864.1 L629.8,861.4 L629.6,858.8 L629.5,856.1 L629.5,853.6 L629.6,851.1 L629.7,848.6 L630.0,846.2 L630.4,843.9 L630.8,841.7 L631.4,839.5 L632.0,837.4 L632.7,835.4 L633.5,833.5 L634.4,831.6 L635.4,829.9 L636.4,828.3 L637.6,826.7 L638.8,825.3 L640.1,824.0 L641.4,822.7 L642.9,821.6 L644.4,820.6 L646.0,819.7 L647.6,818.9 L649.3,818.3 L651.1,817.7 L652.9,817.3 L654.7,817.0 L656.6,816.8 L658.6,816.7 L660.6,816.8 L662.6,817.0 L664.7,817.2 L666.8,817.7 L668.9,818.2 L671.1,818.8 L673.3,819.6"/>
<path class="hd" d="M673.3,819.6 L676.1,820.7 L679.0,822.1 L681.9,823.6 L684.8,825.4 L687.7,827.3 L690.5,829.3 L693.4,831.6 L696.2,834.0 L699.0,836.5 L701.7,839.2 L704.4,842.1 L707.0,845.0 L709.5,848.1 L711.9,851.3 L714.3,854.6 L716.6,858.0 L718.7,861.4 L720.8,865.0 L722.7,868.6 L724.6,872.2 L726.2,875.9 L727.8,879.6 L729.2,883.3 L730.5,887.1 L731.7,890.8 L732.7,894.5 L733.6,898.2 L734.3,901.8 L734.8,905.4 L735.2,909.0 L735.4,912.4 L735.5,915.8 L735.4,919.1 L735.2,922.3 L734.8,925.4 L734.3,928.4 L733.6,931.2 L732.7,933.9 L731.7,936.4 L730.6,938.8 L729.3,941.1 L727.8,943.1 L726.3,945.0 L724.6,946.8 L722.7,948.3 L720.8,949.7 L718.8,950.8 L716.6,951.8"/>
<path class="hl" d="M719.5,944.8 L714.6,946.9 L709.3,948.0 L703.4,947.9 L697.3,946.8 L691.0,944.6 L684.5,941.3 L678.1,937.1 L671.7,932.0 L665.6,926.1 L659.8,919.4 L654.4,912.1 L649.5,904.4 L645.3,896.3 L641.7,888.0 L638.8,879.7 L636.7,871.4 L635.4,863.3 L635.0,855.6 L635.4,848.4 L636.7,841.8 L638.8,835.9 L641.6,830.9 L645.2,826.7 L649.5,823.6 L654.4,821.5 L659.7,820.4 L665.6,820.5 L671.7,821.6 L678.0,823.8 L684.5,827.1 L690.9,831.3 L697.3,836.4 L703.4,842.3 L709.2,849.0 L714.6,856.3 L719.5,864.0 L723.7,872.1 L727.3,880.4 L730.2,888.7 L732.3,897.0 L733.6,905.1 L734.0,912.8 L733.6,920.0 L732.3,926.6 L730.2,932.5 L727.4,937.5 L723.8,941.7 L719.5,944.8"/>
<path class="hg" d="M695.5,958.1 L692.1,957.1 L688.7,955.8 L685.3,954.3 L681.8,952.5 L678.4,950.4 L674.9,948.1 L671.5,945.6 L668.1,942.8 L664.8,939.9 L661.5,936.7 L658.3,933.3 L655.2,929.8 L652.2,926.1 L649.3,922.3 L646.5,918.3 L643.9,914.2 L641.4,910.0 L639.0,905.8 L636.8,901.4 L634.8,897.0 L633.0,892.6 L631.3,888.1 L629.8,883.7 L628.5,879.2 L627.4,874.8 L626.6,870.5 L625.9,866.2 L625.4,862.0 L625.2,857.8 L625.2,853.8 L625.3,850.0 L625.7,846.2 L626.3,842.7 L627.2,839.3 L628.2,836.0 L629.4,833.0 L630.8,830.2 L632.4,827.6 L634.2,825.2 L636.2,823.1 L638.3,821.2 L640.6,819.6 L643.1,818.2 L645.7,817.1 L648.5,816.3 L651.3,815.7 L654.3,815.4 L657.4,815.4"/>
<ellipse class="hs" cx="650.6" cy="805.9" rx="5.6" ry="3.23" transform="rotate(62 650.6 805.9)"/>
<ellipse class="hs" cx="619.7" cy="849.1" rx="5.6" ry="3.23" transform="rotate(62 619.7 849.1)"/>
<ellipse class="hs" cx="712.4" cy="842.9" rx="5.6" ry="3.23" transform="rotate(62 712.4 842.9)"/>
<ellipse class="hs" cx="649.6" cy="928.4" rx="5.6" ry="3.23" transform="rotate(62 649.6 928.4)"/>
<ellipse class="hs" cx="742.2" cy="922.2" rx="5.6" ry="3.23" transform="rotate(62 742.2 922.2)"/>
<ellipse class="hs" cx="711.3" cy="965.4" rx="5.6" ry="3.23" transform="rotate(62 711.3 965.4)"/>
<path class="hs" d="M601.2,820.3 C601.7,819.8 602.7,817.4 604.3,817.2 C605.8,817.0 609.2,812.9 610.4,819.3 C611.7,825.6 612.2,848.8 611.9,855.3 C611.5,861.8 610.2,858.6 608.4,858.4 C606.6,858.2 602.7,857.5 601.2,854.3 C599.7,851.0 599.5,844.5 599.5,838.8 C599.5,833.2 600.9,823.4 601.2,820.3"/>
<path class="hg" d="M604.3,822.4 C605.0,822.7 607.5,819.1 608.4,824.4 C609.2,829.7 609.2,849.3 609.4,854.3"/>
<path class="hs" d="M720.6,974.7 C723.3,973.3 731.9,969.2 737.1,966.5 C742.2,963.7 748.6,956.5 751.5,958.2 C754.4,960.0 754.9,972.0 754.6,976.8 C754.2,981.6 752.7,984.7 749.4,987.1 C746.2,989.5 738.4,990.7 735.0,991.2 C731.6,991.7 731.2,992.9 728.8,990.2 C726.4,987.4 722.0,977.3 720.6,974.7"/>
<path class="hg" d="M730.9,972.7 L737.1,987.1 M741.2,968.5 L746.3,985.0"/>
<path class="hs" d="M753.5,910.9 C754.7,911.9 759.4,911.7 760.7,917.1 C762.1,922.4 762.8,938.3 761.8,942.8 C760.7,947.3 756.3,944.7 754.6,943.8 C752.8,943.0 752.0,938.7 751.5,937.7"/>
<path class="hg" d="M751.5,892.4 C752.5,894.4 755.3,903.0 757.7,904.7 C760.1,906.4 764.9,904.7 765.9,902.7 C766.9,900.6 764.2,894.1 763.8,892.4"/>
<path class="hg" d="M627.9,908.8 L642.4,902.7 M630.0,915.0 L644.4,907.8 M660.9,801.8 L667.1,816.2 M664.0,800.7 L670.2,815.1"/>
<path class="hg" d="M665.0,781.2 C668.1,781.5 680.1,781.9 683.5,783.2 C687.0,784.6 687.7,788.0 685.6,789.4 C683.5,790.8 674.6,792.8 671.2,791.5 C667.7,790.1 666.0,782.9 665.0,781.2"/>
<path class="hs" d="M683.5,779.1 L691.8,771.9 L730.9,746.2"/>
<path class="hl" d="M728.8,807.9 L765.9,787.4"/>
<path class="hl" d="M745.3,836.8 L790.6,812.1"/>
<path class="hl" d="M757.7,859.4 L831.8,822.4"/>
<path class="hl" d="M784.4,892.4 L844.1,863.5"/>
<path class="hl" d="M802.9,904.7 L858.5,880.0"/>
<path class="hg" d="M704.1,781.2 C706.2,783.9 713.0,791.5 716.5,797.6 C719.9,803.8 721.3,811.7 724.7,818.2 C728.1,824.8 732.6,830.6 737.1,836.8 C741.5,842.9 748.0,849.1 751.5,855.3 C754.9,861.5 756.6,870.7 757.7,873.8"/>
<path class="hg" d="M716.5,777.1 C718.5,781.2 724.7,793.5 728.8,801.8 C732.9,810.0 736.7,818.2 741.2,826.5 C745.6,834.7 753.2,847.1 755.6,851.2"/>
<path class="hg" d="M765.9,781.2 C767.3,783.2 770.0,788.7 774.1,793.5 C778.2,798.3 786.8,803.8 790.6,810.0 C794.4,816.2 795.7,827.2 796.8,830.6"/>
<path class="hg" d="M774.1,882.1 C775.8,884.1 779.6,890.6 784.4,894.4 C789.2,898.2 799.9,903.0 802.9,904.7 M823.5,855.3 L831.8,863.5 M846.2,877.9 L856.5,884.1"/>
<path class="hl" d="M572.4,748.2 C577.2,750.3 592.3,757.8 601.2,760.6 C610.1,763.3 618.3,765.0 625.9,764.7 C633.4,764.4 643.0,759.6 646.5,758.5"/>
<path class="hl" d="M566.2,758.5 C570.6,760.6 583.7,768.5 592.9,770.9 C602.2,773.3 613.5,773.6 621.8,772.9 C630.0,772.3 638.9,767.8 642.4,766.8"/>
<path class="hg" d="M642.4,752.4 C643.7,754.1 649.6,759.6 650.6,762.6 C651.6,765.7 648.9,769.5 648.5,770.9 M656.8,744.1 C658.5,746.5 664.0,754.1 667.1,758.5 C670.2,763.0 673.9,768.8 675.3,770.9"/>
<path class="hd" d="M575.4,1099.4 L571.9,1099.3 L568.4,1099.0 L564.8,1098.4 L561.1,1097.5 L557.4,1096.5 L553.7,1095.2 L549.9,1093.6 L546.0,1091.8 L542.2,1089.8 L538.4,1087.6 L534.6,1085.1 L530.8,1082.5 L527.0,1079.6 L523.2,1076.5 L519.5,1073.3 L515.9,1069.8 L512.3,1066.2 L508.8,1062.4 L505.3,1058.5 L502.0,1054.4 L498.7,1050.2 L495.6,1045.8 L492.5,1041.4 L489.6,1036.8 L486.9,1032.2 L484.2,1027.4 L481.7,1022.6 L479.3,1017.8 L477.1,1012.9 L475.1,1008.0 L473.2,1003.0 L471.5,998.1 L470.0,993.2 L468.6,988.2 L467.5,983.3 L466.5,978.5 L465.7,973.7 L465.1,969.0 L464.6,964.3 L464.4,959.8 L464.4,955.4 L464.5,951.0 L464.9,946.8 L465.4,942.7 L466.1,938.8 L467.0,935.1 L468.1,931.5 L469.4,928.0"/>
<path class="hg2" d="M509.6,902.3 L514.2,902.8 L518.8,903.7 L523.6,905.0 L528.4,906.7 L533.3,908.8 L538.2,911.2 L543.1,914.1 L548.0,917.3 L552.9,920.8 L557.7,924.7 L562.4,928.9 L567.1,933.3 L571.7,938.1 L576.1,943.1 L580.4,948.4 L584.5,953.9 L588.4,959.5 L592.1,965.4 L595.7,971.4 L599.0,977.5 L602.0,983.7 L604.8,990.0 L607.3,996.3 L609.6,1002.7 L611.6,1009.0 L613.2,1015.3 L614.6,1021.5 L615.7,1027.7 L616.5,1033.7 L616.9,1039.6 L617.0,1045.4 L616.9,1050.9 L616.4,1056.3 L615.5,1061.4 L614.4,1066.3 L613.0,1070.9 L611.3,1075.2 L609.3,1079.2 L607.0,1082.9 L604.4,1086.2 L601.5,1089.2 L598.4,1091.8 L595.1,1094.1 L591.6,1095.9 L587.8,1097.4 L583.8,1098.5 L579.7,1099.1 L575.4,1099.4"/>
<path class="hg2" d="M469.3,928.0 L476.6,923.9 L509.5,902.0 L520.5,902.9"/>
<path class="hd" d="M586.2,1081.3 L579.7,1084.2 L572.6,1085.5 L564.9,1085.5 L556.7,1084.0 L548.3,1081.0 L539.7,1076.7 L531.1,1071.1 L522.7,1064.3 L514.6,1056.4 L506.8,1047.6 L499.7,1037.9 L493.2,1027.6 L487.6,1016.9 L482.8,1005.9 L479.0,994.8 L476.2,983.8 L474.5,973.1 L474.0,962.8 L474.5,953.2 L476.2,944.5 L479.0,936.7 L482.8,929.9 L487.5,924.5 L493.2,920.3 L499.7,917.4 L506.8,916.1 L514.5,916.1 L522.7,917.6 L531.1,920.6 L539.7,924.9 L548.3,930.5 L556.7,937.3 L564.8,945.2 L572.6,954.0 L579.7,963.7 L586.2,974.0 L591.8,984.7 L596.6,995.7 L600.4,1006.8 L603.2,1017.8 L604.9,1028.5 L605.4,1038.8 L604.9,1048.4 L603.2,1057.1 L600.4,1064.9 L596.6,1071.7 L591.9,1077.1 L586.2,1081.3"/>
<path class="hs" d="M605.6,1069.0 L603.4,1069.5 L601.2,1070.0 L598.9,1070.2 L596.5,1070.4 L594.1,1070.4 L591.7,1070.2 L589.2,1069.9 L586.7,1069.5 L584.1,1068.9 L581.6,1068.2 L578.9,1067.4 L576.3,1066.4 L573.7,1065.3 L571.0,1064.1 L568.3,1062.7 L565.6,1061.2 L563.0,1059.6 L560.3,1057.8 L557.6,1056.0 L555.0,1054.0 L552.4,1051.9 L549.7,1049.7 L547.2,1047.3 L544.6,1044.9 L542.1,1042.4 L539.6,1039.8 L537.2,1037.1 L534.8,1034.3 L532.5,1031.4 L530.2,1028.5 L528.0,1025.5 L525.8,1022.4 L523.8,1019.2 L521.7,1016.0 L519.8,1012.8 L517.9,1009.5 L516.1,1006.2 L514.4,1002.8 L512.8,999.4 L511.3,996.0 L509.9,992.5 L508.5,989.1 L507.3,985.6 L506.1,982.2 L505.1,978.7 L504.1,975.3 L503.3,971.9 L502.5,968.5"/>
<path class="hd3" d="M502.5,968.5 L502.2,966.8 L501.9,965.2 L501.6,963.5 L501.3,961.9 L501.1,960.2 L500.9,958.6 L500.7,957.0 L500.6,955.4 L500.5,953.9 L500.4,952.3 L500.3,950.7 L500.3,949.2 L500.3,947.7 L500.3,946.1 L500.3,944.7 L500.4,943.2 L500.5,941.7 L500.6,940.3 L500.7,938.8 L500.9,937.4 L501.1,936.0 L501.3,934.7 L501.5,933.3 L501.8,932.0 L502.1,930.7 L502.4,929.4 L502.8,928.1 L503.2,926.9 L503.6,925.7 L504.0,924.5 L504.4,923.3 L504.9,922.2 L505.4,921.1 L505.9,920.0 L506.5,918.9 L507.0,917.9 L507.6,916.8 L508.2,915.9 L508.9,914.9 L509.5,914.0 L510.2,913.1 L510.9,912.2 L511.7,911.4 L512.4,910.6 L513.2,909.8 L514.0,909.0 L514.8,908.3 L515.6,907.6"/>
<path class="hs" d="M515.6,907.6 L515.8,907.5 L516.0,907.3 L516.1,907.2 L516.3,907.1 L516.5,906.9 L516.7,906.8 L516.8,906.7 L517.0,906.6 L517.2,906.4 L517.4,906.3 L517.5,906.2 L517.7,906.1 L517.9,906.0 L518.1,905.8 L518.3,905.7 L518.4,905.6 L518.6,905.5 L518.8,905.4 L519.0,905.3 L519.2,905.2 L519.3,905.0 L519.5,904.9 L519.7,904.8 L519.9,904.7 L520.1,904.6 L520.3,904.5 L520.5,904.4 L520.7,904.3 L520.9,904.2 L521.0,904.1 L521.2,904.0 L521.4,903.9 L521.6,903.8 L521.8,903.7 L522.0,903.7 L522.2,903.6 L522.4,903.5 L522.6,903.4 L522.8,903.3 L523.0,903.2 L523.2,903.1 L523.4,903.1 L523.6,903.0 L523.8,902.9 L524.0,902.8 L524.2,902.7 L524.4,902.7 L524.6,902.6"/>
<ellipse class="hs" cx="465.6" cy="1033.7" rx="6.5" ry="3.75" transform="rotate(62 465.6 1033.7)"/>
<path class="hd4" d="M465.1,670.4 L314.6,947.9"/>
<path class="hd" d="M480.6,771.5 L365.2,981.6"/>
<path class="hd" d="M494.9,763.7 L388.5,955.6 L404.1,958.2 L424.9,934.9 L513.0,768.9"/>
<path class="hl" d="M519.5,761.1 L419.7,955.6"/>
<path class="hd" d="M497.5,763.7 C499.6,762.4 506.8,756.8 510.4,756.0 C514.1,755.1 518.0,758.1 519.5,758.5"/>
<path class="hd" d="M471.5,711.9 C472.4,714.0 476.1,718.8 476.7,724.8 C477.4,730.9 474.6,740.4 475.4,748.2 C476.3,756.0 480.8,767.6 481.9,771.5"/>
<ellipse class="hs" cx="462.5" cy="726.1" rx="9" ry="5.19" transform="rotate(62 462.5 726.1)"/>
<ellipse class="hs" cx="401.5" cy="837.6" rx="9" ry="5.19" transform="rotate(62 401.5 837.6)"/>
<ellipse class="hs" cx="353.0" cy="987.3" rx="7.5" ry="4.33" transform="rotate(62 353.0 987.3)"/>
<path class="hs" d="M345.1,954.3 L345.4,955.0 L345.7,955.7 L345.9,956.4 L346.1,957.2 L346.2,957.9 L346.3,958.6 L346.4,959.3 L346.4,959.9 L346.3,960.5 L346.2,961.1 L346.1,961.7 L345.9,962.2 L345.7,962.7 L345.5,963.1 L345.2,963.5 L344.8,963.9 L344.5,964.1 L344.1,964.4 L343.6,964.5 L343.2,964.7 L342.7,964.7 L342.2,964.7 L341.7,964.7 L341.1,964.5 L340.6,964.4 L340.0,964.1 L339.5,963.9 L338.9,963.5 L338.3,963.1 L337.8,962.7 L337.2,962.2 L336.7,961.7 L336.2,961.1 L335.7,960.5 L335.2,959.9 L334.8,959.2 L334.3,958.5 L334.0,957.8 L333.6,957.1 L333.3,956.4 L333.0,955.7 L332.8,955.0 L332.6,954.2 L332.4,953.5 L332.3,952.8 L332.2,952.1 L332.2,951.5 L332.3,950.8"/>
<path class="hs" d="M314.6,947.9 L304.3,967.3 L328.9,994.5"/>
<path class="hs" d="M321.1,953.0 L332.8,971.2"/>
<path class="hs" d="M404.1,921.9 L414.5,929.7 L424.9,921.9 M439.1,859.7 L445.6,867.5 L453.4,857.1"/>
<path class="hs" d="M389.8,955.6 L396.3,942.7 L402.8,953.0"/>
<path class="hg" d="M476.7,701.5 C480.2,702.4 491.4,704.5 497.5,706.7 C503.5,708.8 506.1,715.3 513.0,714.5 C519.9,713.6 534.6,703.7 539.0,701.5"/>
<path class="hg" d="M481.9,685.9 C483.2,688.5 487.5,694.6 489.7,701.5 C491.8,708.4 492.7,719.6 494.9,727.4 C497.0,735.2 501.4,744.7 502.7,748.2 M487.1,680.7 C488.8,685.1 494.9,698.0 497.5,706.7 C500.1,715.3 500.5,725.3 502.7,732.6 C504.8,740.0 509.1,747.7 510.4,750.8"/>
<path class="hg" d="M476.7,745.6 C479.7,744.3 488.0,741.3 494.9,737.8 C501.8,734.3 510.9,728.3 518.2,724.8 C525.6,721.4 535.5,718.4 539.0,717.1 M479.3,758.5 C482.3,757.3 490.1,754.2 497.5,750.8 C504.8,747.3 519.1,740.0 523.4,737.8"/>
<path class="hg" d="M531.2,732.6 C532.5,730.9 535.9,724.8 539.0,722.2 C542.0,719.6 545.0,719.2 549.3,717.1 C553.7,714.9 562.3,710.6 564.9,709.3 M533.8,737.8 L544.1,727.4"/>
<path class="hl" d="M523.4,745.6 C525.1,742.6 529.5,732.2 533.8,727.4 C538.1,722.7 546.7,718.8 549.3,717.1"/>
<path class="hl" d="M549.3,727.4 C553.7,730.9 565.2,743.0 575.3,748.2 C585.4,753.4 604.2,756.8 610.0,758.5"/>
<path class="hl" d="M554.5,714.5 C558.8,717.9 571.2,730.0 580.5,735.2 C589.7,740.4 605.1,743.9 610.0,745.6"/>
<path class="hl" d="M564.9,701.5 C568.8,705.0 580.7,717.5 588.2,722.2 C595.8,727.0 606.4,728.7 610.0,730.0"/>
<path class="hd" d="M331.5,968.8 L332.7,1110.4"/>
<path class="hd" d="M332.7,1110.4 L398.6,1149.4"/>
<path class="hs" d="M398.6,1137.2 L398.6,1155.5"/>
<path class="hd" d="M398.6,1155.5 L565.8,1240.0"/>
<path class="hd" d="M355.9,1007.9 L355.9,1088.4"/>
<path class="hd" d="M355.9,1007.9 L370.5,1001.8 L412.0,984.7"/>
<path class="hd" d="M365.7,979.8 L370.5,1001.8"/>
<path class="hd" d="M365.7,979.8 L412.0,959.1"/>
<path class="hl" d="M368.1,982.2 L416.9,962.7"/>
<path class="hl" d="M412.0,959.1 C412.9,960.7 416.9,964.5 416.9,968.8 C416.9,973.1 412.9,982.0 412.0,984.7"/>
<ellipse class="hs" cx="381.5" cy="1057.9" rx="13" ry="7.50" transform="rotate(62 381.5 1057.9)"/>
<ellipse class="hs" cx="351.0" cy="1104.3" rx="10" ry="5.77" transform="rotate(62 351.0 1104.3)"/>
<ellipse class="hs" cx="465.7" cy="1033.5" rx="6.5" ry="3.75" transform="rotate(62 465.7 1033.5)"/>
<path class="hd" d="M355.9,1088.4 C357.5,1091.7 363.6,1103.9 365.7,1107.9 C367.7,1112.0 362.6,1107.9 368.1,1112.8 C373.6,1117.7 393.5,1133.2 398.6,1137.2"/>
<path class="hg" d="M401.1,985.9 L401.1,1017.6 M407.2,984.7 L407.2,1017.6"/>
<path class="hg" d="M397.4,1025.0 C397.8,1024.1 398.2,1021.3 399.8,1020.1 C401.5,1018.9 405.9,1018.0 407.2,1017.6 M397.4,1025.0 C397.4,1030.2 398.6,1049.0 397.4,1056.7 C396.2,1064.4 391.7,1065.6 390.1,1071.3 C388.4,1077.0 388.0,1087.6 387.6,1090.9 M403.5,1025.0 L403.5,1051.8"/>
<path class="hl" d="M399.8,1018.9 L460.9,1049.4"/>
<path class="hl" d="M404.7,1027.4 L456.0,1053.0"/>
<path class="hl" d="M492.6,1071.3 L595.1,1127.5"/>
<path class="hl" d="M497.5,1078.7 L590.2,1129.9"/>
<path class="hl" d="M465.7,1127.5 L558.5,1173.8"/>
<path class="hl" d="M470.6,1137.2 L553.6,1178.7"/>
<path class="hl" d="M426.7,1154.3 L558.5,1222.7"/>
<path class="hl" d="M431.6,1164.1 L553.6,1227.5"/>
<path class="hl" d="M358.3,1088.4 L392.5,1076.2"/>
<path class="hl" d="M370.5,1112.8 L407.2,1098.2"/>
<path class="hs" d="M415.7,1088.4 L415.7,1139.7"/>
<path class="hl" d="M456.0,1090.9 L456.0,1147.0"/>
<path class="hs" d="M416.9,1078.7 C419.0,1076.6 424.2,1068.1 429.1,1066.4 C434.0,1064.8 443.4,1068.5 446.2,1068.9"/>
<path class="hg" d="M446.2,1068.9 L456.0,1090.9 M429.1,1066.4 C432.0,1064.8 440.9,1059.9 446.2,1056.7 C451.5,1053.4 456.8,1048.5 460.9,1046.9 C464.9,1045.3 469.0,1046.9 470.6,1046.9"/>
<path class="hl" d="M416.9,1098.2 C420.2,1098.8 429.9,1102.2 436.4,1101.8 C443.0,1101.4 452.7,1096.8 456.0,1095.7 M416.9,1139.7 C418.5,1141.3 421.8,1147.4 426.7,1149.4 C431.6,1151.5 440.9,1152.3 446.2,1151.9 C451.5,1151.5 456.4,1147.8 458.4,1147.0"/>
<path class="hg" d="M407.2,1139.7 L412.0,1134.8 M426.7,1064.0 C429.9,1062.0 440.5,1055.5 446.2,1051.8 C451.9,1048.1 458.4,1043.7 460.9,1042.0"/>
<path class="hg" d="M470.6,1046.9 C472.2,1048.5 477.5,1052.6 480.4,1056.7 C483.2,1060.8 487.3,1065.6 487.7,1071.3 C488.1,1077.0 485.7,1083.5 482.8,1090.9 C480.0,1098.2 473.9,1108.8 470.6,1115.3 C467.4,1121.8 464.5,1125.0 463.3,1129.9 C462.1,1134.8 464.1,1140.9 463.3,1144.6 C462.5,1148.2 459.2,1150.7 458.4,1151.9"/>
<path class="hl" d="M475.5,1051.8 C478.3,1054.7 491.0,1061.6 492.6,1068.9 C494.2,1076.2 488.1,1087.2 485.3,1095.7 C482.4,1104.3 477.1,1116.1 475.5,1120.1"/>
<path class="hg" d="M463.3,1129.9 L473.1,1127.5 M482.8,1090.9 L492.6,1088.4"/>
<path class="hg" d="M390.1,1071.3 C392.9,1074.2 402.9,1085.2 407.2,1088.4 C411.4,1091.7 414.3,1090.4 415.7,1090.9 M387.6,1090.9 L397.4,1103.1"/>
<path class="hs" d="M553.6,1166.5 L553.6,1222.7"/>
<path class="hs" d="M554.8,1159.2 C556.7,1157.2 559.1,1151.5 565.8,1147.0 C572.5,1142.5 588.2,1135.2 595.1,1132.4 C602.0,1129.5 605.3,1130.3 607.3,1129.9"/>
<path class="hl" d="M556.0,1169.0 C558.9,1171.0 566.6,1179.5 573.1,1181.2 C579.6,1182.8 588.2,1181.6 595.1,1178.7 C602.0,1175.9 611.4,1166.5 614.6,1164.1"/>
<path class="hl" d="M593.9,1178.7 L593.9,1234.9"/>
<path class="hg" d="M595.1,1132.4 C597.9,1132.8 607.3,1131.1 612.2,1134.8 C617.1,1138.5 622.4,1151.1 624.4,1154.3 M578.0,1147.0 C580.5,1149.4 589.8,1156.4 592.7,1161.6 C595.5,1166.9 594.7,1175.9 595.1,1178.7"/>
<path class="hg" d="M614.6,1164.1 C613.0,1168.1 607.3,1180.4 604.9,1188.5 C602.4,1196.6 600.4,1205.2 600.0,1212.9 C599.6,1220.6 602.0,1231.2 602.4,1234.9 M624.4,1154.3 C623.2,1158.4 619.5,1170.6 617.1,1178.7 C614.6,1186.9 611.0,1199.1 609.7,1203.1"/>
<path class="hg" d="M546.3,1222.7 C547.9,1224.7 551.2,1232.2 556.0,1234.9 C560.9,1237.5 572.3,1237.9 575.6,1238.5 M600.0,1212.9 C601.6,1212.5 604.5,1209.2 609.7,1210.5 C615.0,1211.7 628.1,1218.6 631.7,1220.2"/>
<path class="hs" d="M387.6,954.2 L404.7,929.8 L416.9,920.0 M387.6,954.2 L397.4,956.6 L416.9,944.4 L431.6,924.9"/>
<path class="hs" d="M391.3,951.7 L404.7,949.3 L399.8,939.5"/>
<path class="hd" d="M540.0,1239.1 L579.3,1261.1"/>
<path class="hs" d="M579.3,1261.1 L586.9,1261.1 L586.9,1246.7 M579.3,1261.1 L579.3,1248.6"/>
<path class="hd" d="M586.9,1261.1 L654.9,1302.2"/>
<path class="hs" d="M654.9,1302.2 L662.6,1299.4 L662.6,1291.7"/>
<path class="hd" d="M655.9,1178.7 L655.9,1302.2"/>
<path class="hd3" d="M662.6,1173.0 L662.6,1299.4"/>
<path class="hd" d="M644.4,1178.7 L644.4,1259.2"/>
<path class="hd" d="M685.5,1164.4 C685.9,1166.8 689.4,1165.5 687.5,1178.7 C685.5,1192.0 676.3,1233.0 674.0,1243.8"/>
<path class="hs" d="M674.0,1243.8 C675.5,1245.8 681.1,1249.3 682.7,1255.3 C684.3,1261.4 685.9,1274.6 683.6,1280.2 C681.4,1285.8 671.7,1287.4 669.3,1288.8"/>
<path class="hg" d="M670.2,1174.9 C670.5,1190.5 670.2,1254.7 672.1,1268.7 C674.0,1282.8 680.1,1260.8 681.7,1259.2 M666.4,1173.0 C667.3,1173.0 669.9,1173.6 672.1,1173.0 C674.4,1172.3 678.5,1169.8 679.8,1169.2"/>
<path class="hs" d="M656.8,1182.6 C657.1,1181.3 657.1,1176.8 658.7,1174.9 C660.3,1173.0 662.9,1172.3 666.4,1171.1 C669.9,1169.8 677.6,1167.9 679.8,1167.2"/>
<ellipse class="hs" cx="635.7" cy="1273.5" rx="10" ry="5.77" transform="rotate(62 635.7 1273.5)"/>
<ellipse class="hs" cx="637.7" cy="1155.7" rx="7" ry="4.04" transform="rotate(62 637.7 1155.7)"/>
<ellipse class="hs" cx="637.7" cy="1155.7" rx="4.5" ry="2.60" transform="rotate(62 637.7 1155.7)"/>
<ellipse class="hd2" cx="686.5" cy="1142.3" rx="11" ry="6.35" transform="rotate(62 686.5 1142.3)"/>
<ellipse class="hs" cx="799.5" cy="1106.9" rx="10" ry="5.77" transform="rotate(62 799.5 1106.9)"/>
<path class="hs" d="M626.2,1142.3 C627.1,1141.4 629.7,1137.2 631.9,1136.6 C634.2,1136.0 636.7,1136.3 639.6,1138.5 C642.5,1140.7 646.6,1147.1 649.2,1150.0 C651.7,1152.9 651.1,1155.7 654.9,1155.7 C658.7,1155.7 668.9,1151.9 672.1,1150.0 C675.3,1148.1 673.7,1145.2 674.0,1144.3"/>
<path class="hd" d="M674.0,1144.3 C673.7,1142.3 672.1,1136.3 672.1,1132.8 C672.1,1129.3 672.1,1125.4 674.0,1123.2 C676.0,1121.0 680.4,1118.4 683.6,1119.4 C686.8,1120.3 690.6,1126.2 693.2,1128.9 C695.8,1131.7 696.7,1134.7 698.9,1135.6 C701.2,1136.6 705.3,1134.8 706.6,1134.7"/>
<path class="hd" d="M706.6,1134.7 L785.1,1110.7"/>
<path class="hd" d="M785.1,1110.7 C785.1,1108.7 784.2,1102.3 785.1,1098.3 C786.1,1094.3 788.1,1089.4 790.9,1086.8 C793.6,1084.3 799.5,1087.4 801.4,1083.0 C803.3,1078.5 802.2,1063.8 802.4,1060.0"/>
<path class="hs" d="M626.2,1142.3 C626.5,1145.2 626.2,1155.1 628.1,1159.6 C630.0,1164.0 635.1,1166.6 637.7,1169.2 C640.2,1171.7 642.1,1172.7 643.4,1174.9 C644.7,1177.1 645.0,1181.3 645.3,1182.6"/>
<path class="hd" d="M685.5,1164.4 C687.1,1163.9 692.2,1163.2 695.1,1161.5 C698.0,1159.7 698.6,1155.9 702.8,1153.8 C706.9,1151.8 717.1,1149.8 720.0,1149.0"/>
<path class="hd" d="M720.0,1149.0 L794.7,1125.1"/>
<path class="hd" d="M794.7,1125.1 C796.3,1125.4 801.1,1127.7 804.3,1127.0 C807.5,1126.4 812.6,1126.1 813.8,1121.3 C815.1,1116.5 811.6,1106.6 811.9,1098.3 C812.2,1090.0 814.8,1077.9 815.8,1071.5 C816.7,1065.1 817.4,1061.9 817.7,1060.0"/>
<path class="hd" d="M815.8,1119.4 L838.7,1109.8"/>
<path class="hl" d="M838.7,1109.8 C840.0,1107.9 844.8,1101.8 846.4,1098.3 C848.0,1094.8 848.9,1092.2 848.3,1088.7 C847.7,1085.2 843.5,1079.1 842.6,1077.2"/>
<path class="hs" d="M620.4,1263.0 L626.2,1253.4 L635.7,1249.6"/>
<path class="hd" d="M587.9,1246.7 L618.5,1263.0"/>
<path class="hg" d="M540.0,1163.4 L551.5,1169.2 M540.0,1174.9 L549.6,1179.7 M597.4,1209.4 L639.6,1228.5 M601.3,1205.5 L639.6,1222.8"/>
<path class="hs" d="M635.7,1119.4 L649.2,1109.8 M631.9,1136.6 C631.9,1135.0 631.0,1129.6 631.9,1127.0 C632.9,1124.5 636.7,1122.2 637.7,1121.3"/>
<path class="hl" d="M654.9,1106.0 C656.2,1104.0 658.7,1096.9 662.6,1094.5 C666.4,1092.1 672.8,1091.0 677.9,1091.6 C683.0,1092.2 689.7,1095.3 693.2,1098.3 C696.7,1101.3 698.0,1107.9 698.9,1109.8"/>
<path class="hg" d="M639.6,1127.0 C642.1,1125.4 649.8,1119.0 654.9,1117.4 C660.0,1115.9 667.0,1114.9 670.2,1117.4 C673.4,1120.0 673.4,1130.2 674.0,1132.8 M647.2,1115.5 C649.2,1117.1 656.2,1121.0 658.7,1125.1 C661.3,1129.3 661.9,1137.9 662.6,1140.4 M658.7,1098.3 C661.3,1099.9 670.9,1104.0 674.0,1107.9 C677.2,1111.7 677.2,1119.0 677.9,1121.3"/>
<path class="hg" d="M653.0,1151.9 L672.1,1142.3 M654.9,1155.7 L662.6,1144.3"/>
<path class="hs" d="M697.0,1107.9 C698.0,1106.0 700.9,1099.9 702.8,1096.4 C704.7,1092.9 707.6,1088.4 708.5,1086.8"/>
<path class="hl" d="M708.5,1086.8 C710.4,1085.5 715.5,1080.1 720.0,1079.1 C724.5,1078.2 730.5,1078.2 735.3,1081.1 C740.1,1083.9 746.5,1093.8 748.7,1096.4"/>
<path class="hg" d="M702.8,1096.4 C705.3,1095.1 713.3,1089.4 718.1,1088.7 C722.9,1088.1 727.3,1089.4 731.5,1092.6 C735.6,1095.7 741.7,1104.0 743.0,1107.9 C744.3,1111.7 739.8,1114.3 739.2,1115.5 M712.3,1104.0 C714.9,1103.1 723.2,1096.7 727.7,1098.3 C732.1,1099.9 737.2,1111.1 739.2,1113.6 M698.9,1132.8 C706.3,1129.3 734.7,1117.4 743.0,1111.7 C751.3,1106.0 747.8,1100.5 748.7,1098.3"/>
<path class="hl" d="M748.7,1098.3 L796.6,1083.0"/>
<path class="hl" d="M743.0,1109.8 L787.0,1096.4"/>
<path class="hg" d="M813.8,1094.5 L833.0,1084.9 M815.8,1104.0 L831.1,1096.4 M831.1,1083.0 C831.1,1085.2 829.8,1096.1 831.1,1096.4 C832.4,1096.7 837.5,1086.8 838.7,1084.9"/>
<path class="hs" d="M553.4,1167.2 L553.4,1218.9"/>
<path class="hs" d="M554.4,1161.5 C555.5,1159.6 558.4,1152.6 561.1,1150.0 C563.8,1147.5 569.0,1146.8 570.6,1146.2"/>
<path class="hl" d="M570.6,1146.2 C572.9,1147.1 580.5,1148.4 584.0,1151.9 C587.6,1155.4 590.3,1153.8 591.7,1167.2 C593.1,1180.6 592.5,1221.5 592.7,1232.3"/>
<path class="hl" d="M555.3,1174.9 C557.9,1176.2 564.6,1182.6 570.6,1182.6 C576.7,1182.6 588.2,1176.2 591.7,1174.9 M553.4,1218.9 C555.0,1220.9 558.8,1228.2 563.0,1230.4 C567.1,1232.7 573.5,1233.0 578.3,1232.3 C583.1,1231.7 589.5,1227.6 591.7,1226.6"/>
<path class="hg" d="M570.6,1146.2 C575.1,1143.9 591.1,1136.3 597.4,1132.8 C603.8,1129.3 607.0,1126.4 608.9,1125.1 M587.9,1132.8 C588.5,1132.1 588.8,1130.9 591.7,1128.9 C594.6,1127.0 601.9,1121.6 605.1,1121.3 C608.3,1121.0 609.9,1126.1 610.9,1127.0 M616.6,1130.9 C617.6,1132.4 621.1,1136.6 622.3,1140.4 C623.6,1144.3 623.9,1151.6 624.3,1153.8"/>
<path class="hg" d="M624.3,1153.8 C622.3,1157.3 616.3,1167.6 612.8,1174.9 C609.3,1182.2 605.1,1191.5 603.2,1197.9 C601.3,1204.3 600.6,1208.7 601.3,1213.2 C601.9,1217.7 606.1,1222.8 607.0,1224.7 M628.1,1163.4 C626.2,1167.2 619.8,1178.7 616.6,1186.4 C613.4,1194.0 610.2,1205.5 608.9,1209.4"/>
<path class="hg" d="M543.8,1228.5 L551.5,1213.2 M601.3,1213.2 L616.6,1209.4 M607.0,1224.7 L597.4,1232.3"/>
<path class="hl" d="M540.0,1096.4 L589.8,1127.0"/>
<path class="hl" d="M543.8,1104.0 L586.0,1128.9"/>
<path class="hd" d="M800.8,961.6 C801.0,963.5 800.0,968.6 801.6,972.9 C803.2,977.1 808.8,982.7 810.4,987.3 C812.0,991.8 812.0,989.9 811.2,1000.1 C810.4,1010.2 807.1,1034.8 805.6,1048.1 C804.2,1061.5 803.0,1074.8 802.4,1080.2"/>
<path class="hs" d="M802.4,1080.2 C801.6,1081.2 800.0,1085.2 797.6,1086.6 C795.2,1087.9 790.1,1086.6 788.0,1088.2 C785.9,1089.8 785.3,1094.8 784.8,1096.2"/>
<path class="hd" d="M828.0,996.9 C827.2,1002.7 825.1,1020.9 823.2,1032.1 C821.4,1043.3 818.3,1053.5 816.8,1064.1 C815.4,1074.8 815.0,1086.3 814.4,1096.2 C813.9,1106.0 813.8,1118.9 813.6,1123.4"/>
<path class="hs" d="M807.2,954.4 L816.8,958.4 L829.6,971.2 L844.1,966.4 L856.9,956.8"/>
<path class="hd" d="M829.6,995.3 L836.1,988.9 L876.1,966.4"/>
<path class="hs" d="M876.1,966.4 L882.5,961.6"/>
<path class="hd" d="M882.5,961.6 C888.9,956.8 908.0,939.8 920.9,932.8 C933.9,925.9 953.5,922.1 960.0,920.0"/>
<path class="hs" d="M874.5,968.0 C875.3,969.4 876.4,973.4 879.3,976.1 C882.2,978.7 887.6,980.9 892.1,984.1 C896.6,987.3 902.5,990.7 906.5,995.3 C910.5,999.8 915.1,1005.7 916.1,1011.3 C917.2,1016.9 914.8,1023.3 912.9,1028.9 C911.1,1034.5 908.9,1040.6 904.9,1044.9 C900.9,1049.2 892.9,1052.4 888.9,1054.5 C884.9,1056.7 884.1,1058.5 880.9,1057.7 C877.7,1056.9 873.2,1053.5 869.7,1049.7 C866.2,1046.0 861.7,1037.7 860.1,1035.3"/>
<path class="hs" d="M860.1,1032.1 L866.5,1006.5 L872.9,1001.7 L882.5,1009.7 L877.7,1022.5 L871.3,1038.5 L860.1,1032.1"/>
<path class="hs" d="M872.9,1001.7 L903.3,988.9 M882.5,1009.7 L904.1,999.3 M871.3,1038.5 L882.5,1056.9"/>
<path class="hs" d="M869.7,1000.1 L892.1,988.9 L898.5,988.9"/>
<path class="hg" d="M828.0,996.9 C829.1,995.8 831.2,989.4 834.5,990.5 C837.7,991.5 844.6,1000.1 847.3,1003.3 C849.9,1006.5 850.2,1000.9 850.5,1009.7 C850.7,1018.5 849.9,1048.1 848.9,1056.1 C847.8,1064.1 844.9,1057.5 844.1,1057.7"/>
<path class="hg" d="M831.2,1000.1 C833.7,1001.1 843.0,997.4 845.7,1006.5 C848.3,1015.6 847.0,1046.5 847.3,1054.5 M836.1,988.9 C837.9,991.3 843.8,999.8 847.3,1003.3 C850.7,1006.7 854.7,1007.0 856.9,1009.7 C859.0,1012.4 859.5,1017.7 860.1,1019.3"/>
<path class="hg" d="M856.9,1009.7 C856.6,1013.4 855.0,1026.2 855.3,1032.1 C855.5,1038.0 857.9,1042.8 858.5,1044.9 M863.3,976.1 C863.8,977.9 864.3,984.3 866.5,987.3 C868.6,990.2 874.5,992.6 876.1,993.7"/>
<path class="hs" d="M821.6,1044.9 L837.7,1052.9 L828.0,1065.7 L815.2,1080.2"/>
<path class="hs" d="M844.1,1057.7 L840.9,1073.7"/>
<path class="hl" d="M840.9,1073.7 C841.9,1076.4 846.2,1084.7 847.3,1089.8 C848.3,1094.8 850.5,1099.9 847.3,1104.2 C844.1,1108.4 833.4,1112.5 828.0,1115.4 C822.7,1118.3 817.4,1120.7 815.2,1121.8"/>
<path class="hg" d="M832.9,1080.2 C832.6,1082.8 830.4,1094.8 831.2,1096.2 C832.0,1097.5 837.1,1091.9 837.7,1088.2 C838.2,1084.4 835.0,1076.1 834.5,1073.7 M815.2,1099.4 L824.8,1094.6 M815.2,1105.8 L826.4,1101.0"/>
<path class="hd" d="M850.5,1056.1 L863.3,1051.3"/>
<path class="hs" d="M813.6,1123.4 L796.0,1126.6 L780.0,1130.0"/>
<path class="hl" d="M828.0,964.8 L869.7,940.8"/>
<path class="hl" d="M856.9,953.6 L882.5,939.2"/>
<path class="hg" d="M884.1,960.0 C887.0,958.2 895.6,952.6 901.7,948.8 C907.9,945.1 917.7,939.5 920.9,937.6 M933.7,934.4 L953.0,923.2"/>
</g>
<g id="parts">
<path class="k15" d="M1405,420 L1458.3,598 Q1461.5,609 1455.5,614 L1367,685.5 Q1360,690.5 1353.5,685 L1214,566 Q1207,560 1205.3,550 L1173.6,372 Q1172.6,364.5 1177,361 L1201.5,343.5 Q1203.2,340.5 1201.2,336.5 Q1198.8,331.8 1202,329.6 L1209.3,324.6 Q1212,323 1214,325.4 L1216.5,328.8 Q1218.6,331 1221.2,329.4 L1244,312.3 Q1247.5,309.8 1251.5,309.8 L1254,310 Q1257.5,310.5 1260.5,312.6 L1390,400.5"/>
<path class="k20" d="M1455,614.5 L1368,684.8"/>
<path class="k30" d="M1256,310.8 Q1258,311 1260.5,312.8 L1389,400.5 Q1400.5,408 1404.5,419 L1409.8,431.5 L1458.3,600 Q1460,607 1458,611"/>
<ellipse class="k13" cx="1314.1" cy="498" rx="167.7" ry="95.1" transform="rotate(60 1314.1 498)"/>
<path class="k28" d="M1373.4,650.0 L1365.1,650.2 L1356.5,649.3 L1347.6,647.5 L1338.5,644.7 L1329.3,641.0 L1319.9,636.4 L1310.5,630.8 L1301.2,624.4 L1291.9,617.2 L1282.8,609.2 L1273.8,600.5 L1265.1,591.2 L1256.8,581.2 L1248.8,570.7 L1241.2,559.8 L1234.1,548.4 L1227.5,536.7 L1221.5,524.8 L1216.1,512.7 L1211.3,500.5 L1207.1,488.3 L1203.7,476.1 L1200.9,464.1 L1198.9,452.3 L1197.7,440.8 L1197.2,429.7 L1197.4,419.0 L1198.4,408.8 L1200.1,399.2 L1202.6,390.2 L1205.8,382.0 L1209.7,374.4 L1214.2,367.7 L1219.4,361.8 L1225.2,356.8 L1231.6,352.7 L1238.5,349.5 L1245.9,347.3 L1253.8,346.1 L1262.0,345.8"/>
<ellipse class="k22" cx="1255.8" cy="330" rx="10" ry="5.4" transform="rotate(62 1255.8 330)"/>
<ellipse class="k22" cx="1188.9" cy="379.2" rx="10" ry="5.4" transform="rotate(62 1188.9 379.2)"/>
<ellipse class="k22" cx="1392.1" cy="422.3" rx="10" ry="5.4" transform="rotate(62 1392.1 422.3)"/>
<ellipse class="k22" cx="1444.1" cy="598.2" rx="10" ry="5.4" transform="rotate(62 1444.1 598.2)"/>
<ellipse class="k22" cx="1354.2" cy="668.2" rx="10" ry="5.4" transform="rotate(62 1354.2 668.2)"/>
<ellipse class="k22" cx="1219.4" cy="552" rx="10" ry="5.4" transform="rotate(62 1219.4 552)"/>
<path class="k13" d="M1389,644 L1398,639.5 M1402,638 l7,-4"/>
<path class="k15" d="M1444.7,223 L1443.6,215 Q1443.2,211.5 1446,209 L1507,157.5 Q1514,151.5 1521,155.5 L1661,246 Q1674,254.5 1678.5,268 L1728.5,445 Q1731.5,457 1723,465.5 L1640,530 Q1630,538 1620.5,530 L1487,416 Q1476,406.5 1473,396 L1469.4,384 L1452.9,300 L1450.1,281.6 Q1450,265 1449.2,250.4 Z"/>
<path class="k15" d="M1512,152.5 L1521.5,147 Q1531,142.5 1540,147.5 L1674.5,238.5 Q1687,247.5 1691.5,262 L1741.2,437 Q1744.5,449 1737,457 L1722,468"/>
<path class="k13" d="M1640,530 L1735,459"/>
<path class="g12" d="M1527.5,153 l10,-5.8 M1588,192 l12,-6.8 M1602,201.5 l12,-6.8 M1664,247 l12,-6.5 M1678,268 l12,-6.5 M1703,347.5 l12,-6 M1709,364.5 l12,-6 M1730.5,445 l12,-6.3 M1680,500 l12,-8"/>
<ellipse class="k15" cx="1524.9" cy="174.5" rx="10" ry="5.8" transform="rotate(64 1524.9 174.5)"/>
<ellipse class="k15" cx="1457.8" cy="224.4" rx="10" ry="5.8" transform="rotate(64 1457.8 224.4)"/>
<ellipse class="k15" cx="1660.4" cy="267.7" rx="10" ry="5.8" transform="rotate(64 1660.4 267.7)"/>
<ellipse class="k15" cx="1712" cy="443.3" rx="10" ry="5.8" transform="rotate(64 1712 443.3)"/>
<ellipse class="k15" cx="1622.5" cy="511.8" rx="10" ry="5.8" transform="rotate(64 1622.5 511.8)"/>
<ellipse class="k15" cx="1488.8" cy="397.2" rx="10" ry="5.8" transform="rotate(64 1488.8 397.2)"/>
<path class="dk" d="M1808,212.5 L1696.8,276"/>
<path class="dk" d="M1854,377.5 L1745.5,440"/>
<path class="dk" d="M1496,393 L1419,437.2"/>
<path class="dk" d="M1396,449.8 L1213,555.5"/>
<path class="dk" d="M1630,507.5 L1461,602"/>
<path class="dk" d="M1361,663.2 L1023.5,854.3"/>
<path class="k18" d="M1839,123 V175"/>
<path class="k16" d="M1972.4,233 V290"/>
<path class="k14" d="M1713.2,480 V557.5"/>
<path class="k20" d="M1419.8,643.5 V707.5"/>
<path class="k15" d="M1798.6,206.9 L1837.5,185.5 Q1842.5,184 1846,189.5 Q1849.5,195.5 1847.2,199.5 L1808.3,221.5"/>
<ellipse class="k15" cx="1802.3" cy="215.8" rx="9.5" ry="5.4" transform="rotate(62 1802.3 215.8)"/>
<path class="k15" d="M1827.2,190.5 Q1824.5,181 1831,177 Q1836,174.5 1841,176 M1836.9,206 Q1841,212.5 1847,211.8 Q1853,210.5 1855.5,203.5"/>
<path class="k30" d="M1841,176 Q1849.5,180 1853.5,191 Q1856.5,199 1855,206"/>
<path class="k15" d="M1841,175 L1846.5,171.3 L1857,179 L1861.8,185 L1864.5,193 L1863.5,195.5 L1858.5,202.3 L1856,203 M1850.5,182.3 L1857,179 M1856,196.8 L1863.5,194 M1856.5,203 L1862.5,194.5"/>
<path class="k13" d="M1801,215.5 l6,-3 M1805,211 l5,-1.5"/>
<path class="k15" d="M1833.8,379.8 L1972.1,300.6 Q1976.5,299.5 1979.5,304.5 Q1982,310 1979.8,313.8 L1842.4,395.2"/>
<ellipse class="k15" cx="1836.6" cy="388" rx="9" ry="5.2" transform="rotate(62 1836.6 388)"/>
<path class="k15" d="M1962.3,306 Q1959.5,296 1965.5,292 Q1970,289.5 1975,291 M1970.5,319 Q1974.5,326 1980.5,325.5 Q1986,324.5 1988.5,318"/>
<path class="k28" d="M1975,291 Q1983,295 1986.5,305.5 Q1989,313 1988,320"/>
<path class="k15" d="M1975,290 L1980.5,286 L1990,292.5 L1995,298 L1998.5,307 L1997.5,310 L1992.5,317 L1989.5,318 M1984.5,296.5 L1990.5,293 M1989.5,311.5 L1997.5,308.5 M1990,317.5 L1996.5,309"/>
<path class="k13" d="M1850,378.7 l9,-4.6"/>
</g>
<g id="labels">
<text class="lb" transform="translate(1834.2,108.6) scale(1.10,1)" text-anchor="middle" font-size="47.9">2</text>
<text class="lb" transform="translate(1709,603.6) scale(1.10,1)" text-anchor="middle" font-size="47.9">3</text>
<text class="lb" transform="translate(1413.5,754) scale(1.10,1)" text-anchor="middle" font-size="47.9">4</text>
<path d="M1973.7,185.2 L1973.7,217.8 L1969.7,217.8 L1969.7,192.6 Q1967.6,194.7 1965.2,195.4 L1965.2,191.9 Q1969,190 1970.9,185.2 Z" style="fill:#000;stroke:none"/>
<text class="cap" transform="translate(13,1298.8) scale(0.757,1)" font-size="36.6">6293_RE524891_PCD</text>
</g>
</svg>
</body></html>
